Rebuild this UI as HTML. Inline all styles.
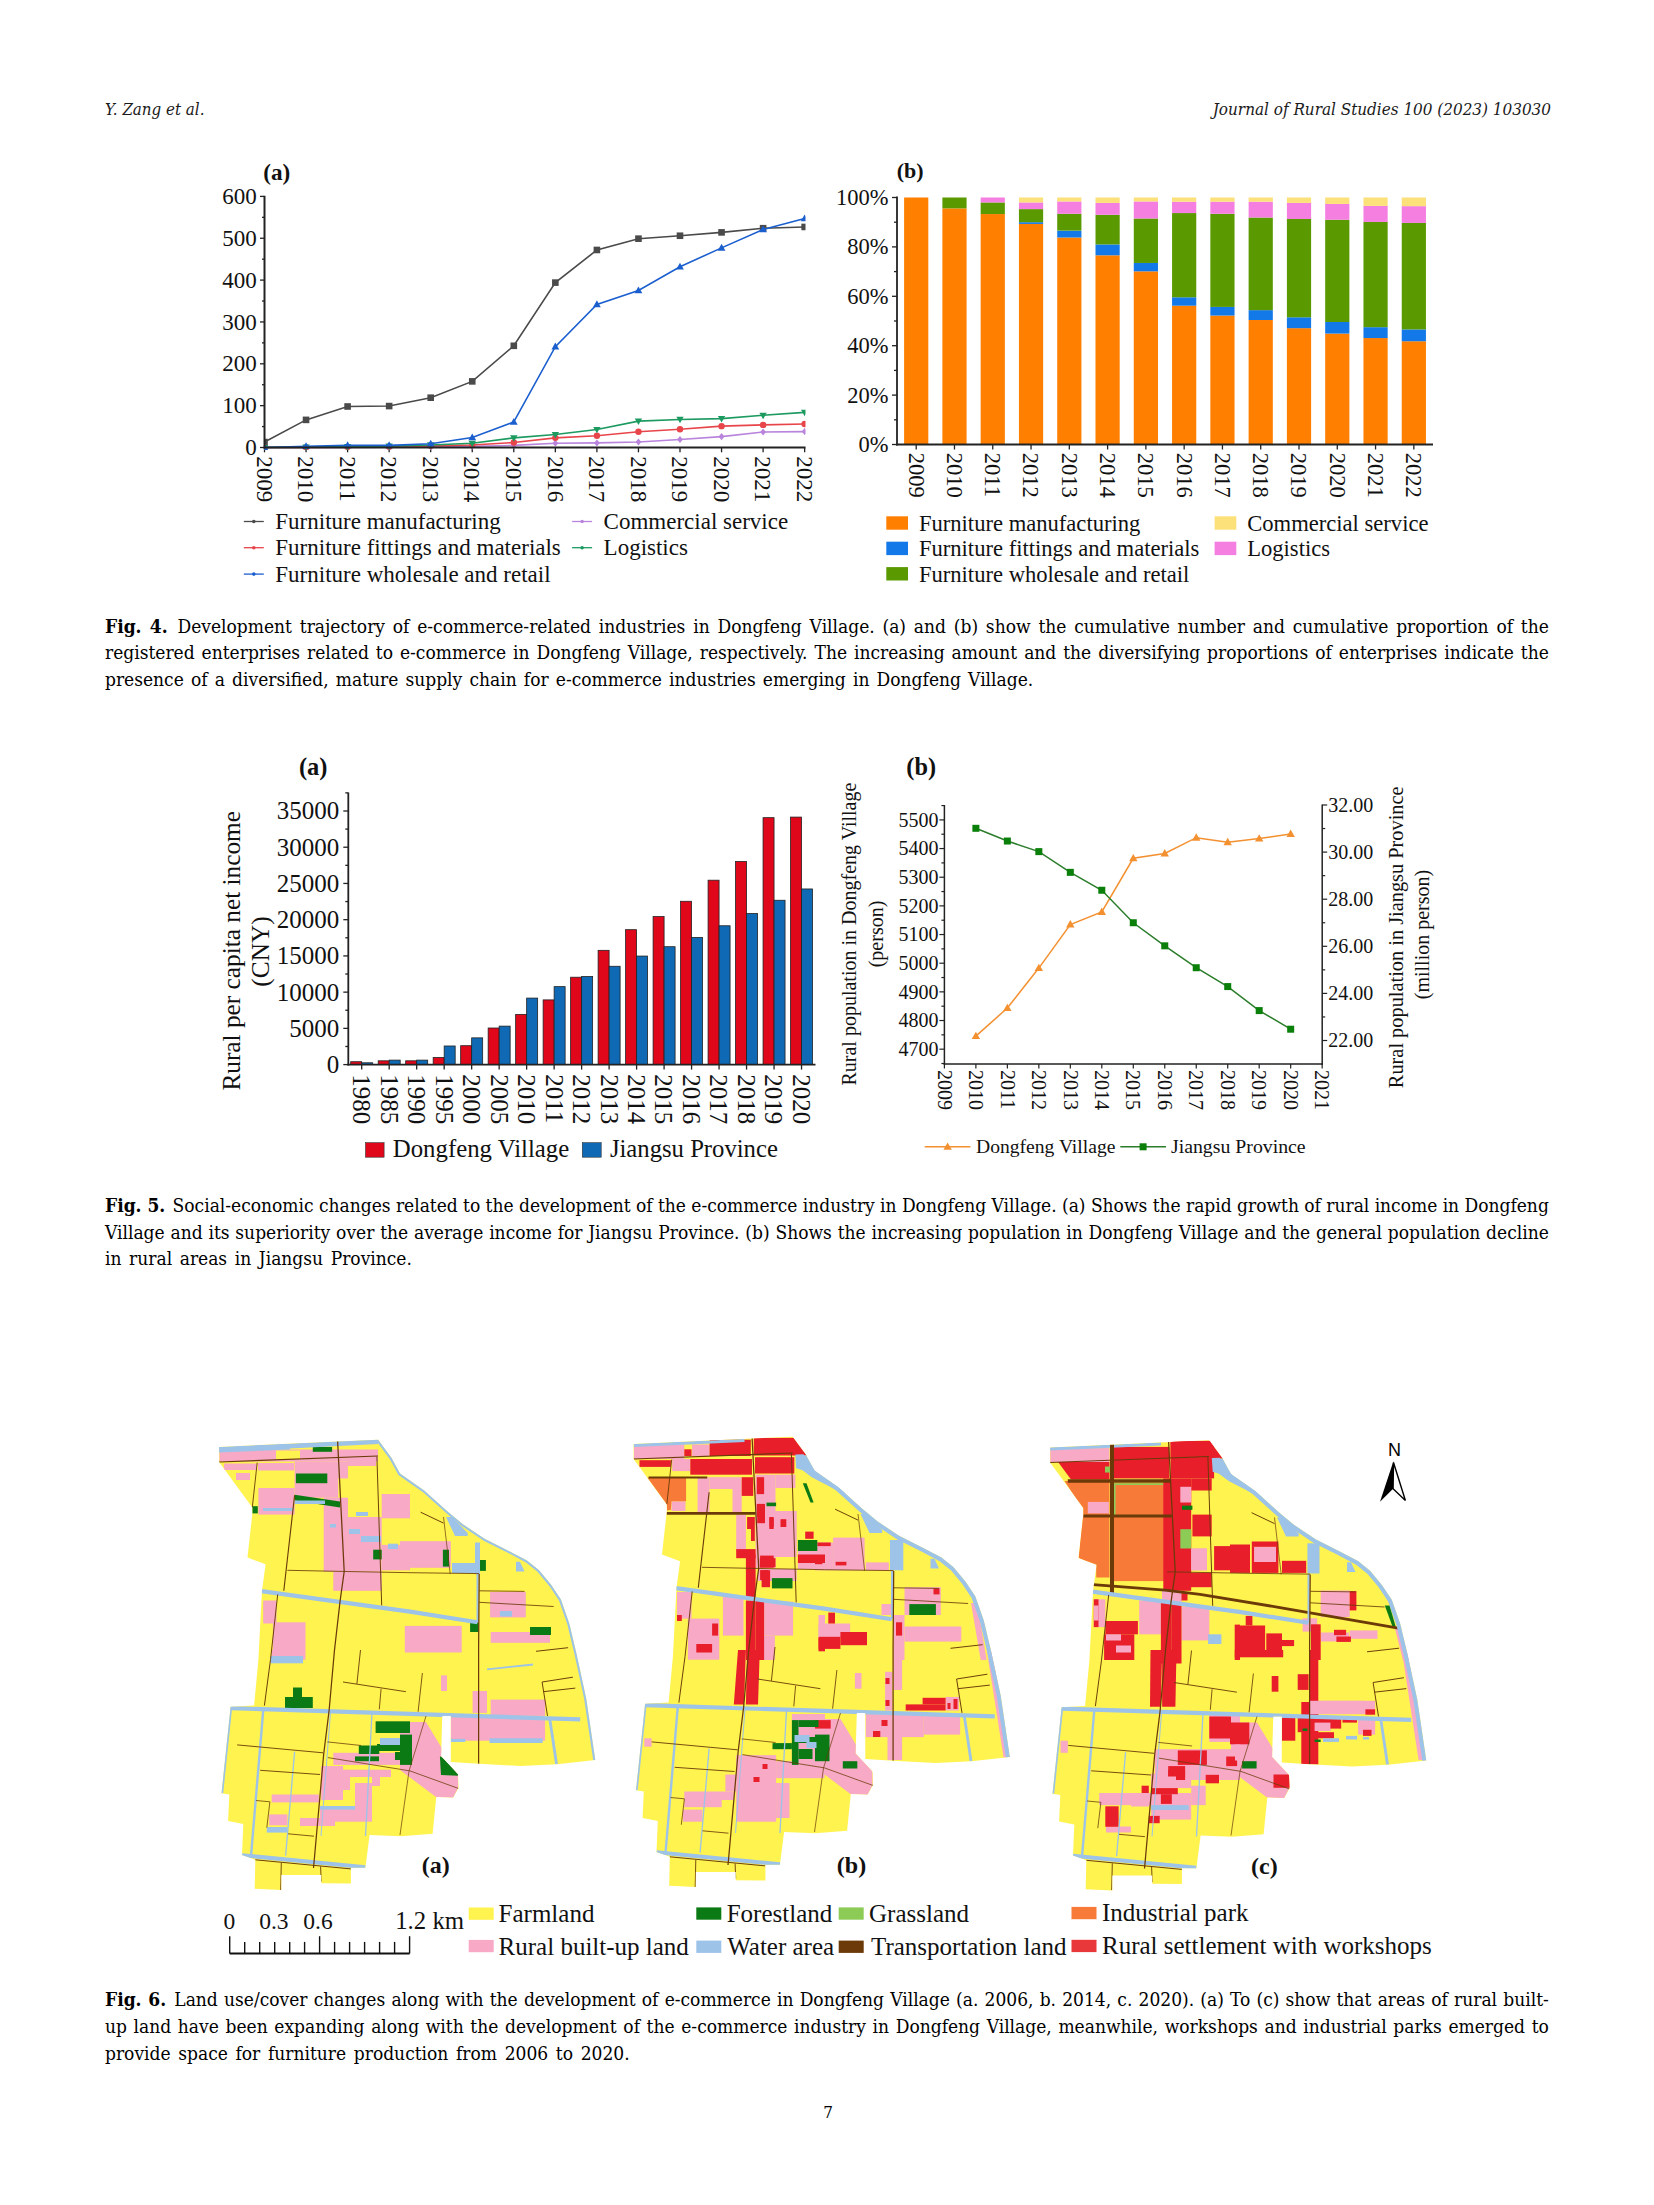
<!DOCTYPE html>
<html><head><meta charset="utf-8"><title>Journal of Rural Studies 100 (2023) 103030 - page 7</title>
<style>
html,body{margin:0;padding:0;background:#fff;}
body{width:1654px;height:2205px;position:relative;overflow:hidden;}
.hd{position:absolute;font-family:"DejaVu Serif Condensed","DejaVu Serif","Liberation Serif",serif;font-style:italic;color:#1a1a1a;line-height:1;white-space:nowrap;}
.cl{position:absolute;left:105px;width:1442px;font-family:"DejaVu Serif Condensed","DejaVu Serif","Liberation Serif",serif;font-size:19.0px;line-height:19.0px;color:#000;white-space:nowrap;}
.cl.j{}
.cl b{font-weight:bold;margin-right:2px;}
svg{position:absolute;left:0;top:0;}
</style></head>
<body>
<svg width="1654" height="2205" viewBox="0 0 1654 2205">
<g font-family="Liberation Serif, Times New Roman, serif" fill="#111">
<text x="263.30" y="180.00" font-size="23.2" text-anchor="start" font-weight="bold" >(a)</text>
<line x1="260.00" y1="447.50" x2="264.50" y2="447.50" stroke="#222" stroke-width="1.3" />
<text x="256.80" y="455.10" font-size="23" text-anchor="end" >0</text>
<line x1="262.00" y1="426.57" x2="264.50" y2="426.57" stroke="#222" stroke-width="1.3" />
<line x1="260.00" y1="405.65" x2="264.50" y2="405.65" stroke="#222" stroke-width="1.3" />
<text x="256.80" y="413.25" font-size="23" text-anchor="end" >100</text>
<line x1="262.00" y1="384.73" x2="264.50" y2="384.73" stroke="#222" stroke-width="1.3" />
<line x1="260.00" y1="363.80" x2="264.50" y2="363.80" stroke="#222" stroke-width="1.3" />
<text x="256.80" y="371.40" font-size="23" text-anchor="end" >200</text>
<line x1="262.00" y1="342.88" x2="264.50" y2="342.88" stroke="#222" stroke-width="1.3" />
<line x1="260.00" y1="321.95" x2="264.50" y2="321.95" stroke="#222" stroke-width="1.3" />
<text x="256.80" y="329.55" font-size="23" text-anchor="end" >300</text>
<line x1="262.00" y1="301.02" x2="264.50" y2="301.02" stroke="#222" stroke-width="1.3" />
<line x1="260.00" y1="280.10" x2="264.50" y2="280.10" stroke="#222" stroke-width="1.3" />
<text x="256.80" y="287.70" font-size="23" text-anchor="end" >400</text>
<line x1="262.00" y1="259.18" x2="264.50" y2="259.18" stroke="#222" stroke-width="1.3" />
<line x1="260.00" y1="238.25" x2="264.50" y2="238.25" stroke="#222" stroke-width="1.3" />
<text x="256.80" y="245.85" font-size="23" text-anchor="end" >500</text>
<line x1="262.00" y1="217.33" x2="264.50" y2="217.33" stroke="#222" stroke-width="1.3" />
<line x1="260.00" y1="196.40" x2="264.50" y2="196.40" stroke="#222" stroke-width="1.3" />
<text x="256.80" y="204.00" font-size="23" text-anchor="end" >600</text>
<line x1="264.50" y1="447.50" x2="264.50" y2="452.30" stroke="#222" stroke-width="1.3" />
<text transform="translate(256.70,456.30) rotate(90)" font-size="23" text-anchor="start" >2009</text>
<line x1="306.05" y1="447.50" x2="306.05" y2="452.30" stroke="#222" stroke-width="1.3" />
<text transform="translate(298.25,456.30) rotate(90)" font-size="23" text-anchor="start" >2010</text>
<line x1="347.60" y1="447.50" x2="347.60" y2="452.30" stroke="#222" stroke-width="1.3" />
<text transform="translate(339.80,456.30) rotate(90)" font-size="23" text-anchor="start" >2011</text>
<line x1="389.15" y1="447.50" x2="389.15" y2="452.30" stroke="#222" stroke-width="1.3" />
<text transform="translate(381.35,456.30) rotate(90)" font-size="23" text-anchor="start" >2012</text>
<line x1="430.70" y1="447.50" x2="430.70" y2="452.30" stroke="#222" stroke-width="1.3" />
<text transform="translate(422.90,456.30) rotate(90)" font-size="23" text-anchor="start" >2013</text>
<line x1="472.25" y1="447.50" x2="472.25" y2="452.30" stroke="#222" stroke-width="1.3" />
<text transform="translate(464.45,456.30) rotate(90)" font-size="23" text-anchor="start" >2014</text>
<line x1="513.80" y1="447.50" x2="513.80" y2="452.30" stroke="#222" stroke-width="1.3" />
<text transform="translate(506.00,456.30) rotate(90)" font-size="23" text-anchor="start" >2015</text>
<line x1="555.35" y1="447.50" x2="555.35" y2="452.30" stroke="#222" stroke-width="1.3" />
<text transform="translate(547.55,456.30) rotate(90)" font-size="23" text-anchor="start" >2016</text>
<line x1="596.90" y1="447.50" x2="596.90" y2="452.30" stroke="#222" stroke-width="1.3" />
<text transform="translate(589.10,456.30) rotate(90)" font-size="23" text-anchor="start" >2017</text>
<line x1="638.45" y1="447.50" x2="638.45" y2="452.30" stroke="#222" stroke-width="1.3" />
<text transform="translate(630.65,456.30) rotate(90)" font-size="23" text-anchor="start" >2018</text>
<line x1="680.00" y1="447.50" x2="680.00" y2="452.30" stroke="#222" stroke-width="1.3" />
<text transform="translate(672.20,456.30) rotate(90)" font-size="23" text-anchor="start" >2019</text>
<line x1="721.55" y1="447.50" x2="721.55" y2="452.30" stroke="#222" stroke-width="1.3" />
<text transform="translate(713.75,456.30) rotate(90)" font-size="23" text-anchor="start" >2020</text>
<line x1="763.10" y1="447.50" x2="763.10" y2="452.30" stroke="#222" stroke-width="1.3" />
<text transform="translate(755.30,456.30) rotate(90)" font-size="23" text-anchor="start" >2021</text>
<line x1="804.65" y1="447.50" x2="804.65" y2="452.30" stroke="#222" stroke-width="1.3" />
<text transform="translate(796.85,456.30) rotate(90)" font-size="23" text-anchor="start" >2022</text>
</g>
<defs><clipPath id="c4a"><rect x="264.5" y="150" width="541" height="300"/></clipPath></defs>
<g clip-path="url(#c4a)">
<polyline points="264.50,442.06 306.05,419.88 347.60,406.49 389.15,406.07 430.70,397.70 472.25,381.38 513.80,345.80 555.35,282.61 596.90,249.97 638.45,238.67 680.00,235.74 721.55,232.39 763.10,228.21 804.65,226.95" fill="none" stroke="#4a4a4a" stroke-width="1.6"/>
<rect x="261.20" y="438.76" width="6.6" height="6.6" fill="#4a4a4a"/>
<rect x="302.75" y="416.58" width="6.6" height="6.6" fill="#4a4a4a"/>
<rect x="344.30" y="403.19" width="6.6" height="6.6" fill="#4a4a4a"/>
<rect x="385.85" y="402.77" width="6.6" height="6.6" fill="#4a4a4a"/>
<rect x="427.40" y="394.40" width="6.6" height="6.6" fill="#4a4a4a"/>
<rect x="468.95" y="378.08" width="6.6" height="6.6" fill="#4a4a4a"/>
<rect x="510.50" y="342.50" width="6.6" height="6.6" fill="#4a4a4a"/>
<rect x="552.05" y="279.31" width="6.6" height="6.6" fill="#4a4a4a"/>
<rect x="593.60" y="246.67" width="6.6" height="6.6" fill="#4a4a4a"/>
<rect x="635.15" y="235.37" width="6.6" height="6.6" fill="#4a4a4a"/>
<rect x="676.70" y="232.44" width="6.6" height="6.6" fill="#4a4a4a"/>
<rect x="718.25" y="229.09" width="6.6" height="6.6" fill="#4a4a4a"/>
<rect x="759.80" y="224.91" width="6.6" height="6.6" fill="#4a4a4a"/>
<rect x="801.35" y="223.65" width="6.6" height="6.6" fill="#4a4a4a"/>
<polyline points="264.50,447.50 306.05,447.50 347.60,447.50 389.15,447.08 430.70,446.66 472.25,446.24 513.80,445.41 555.35,443.31 596.90,442.90 638.45,442.06 680.00,439.55 721.55,436.62 763.10,432.02 804.65,431.60" fill="none" stroke="#b884dc" stroke-width="1.6"/>
<polygon points="264.50,443.98 267.38,447.50 264.50,451.02 261.62,447.50" fill="#b884dc"/>
<polygon points="306.05,443.98 308.93,447.50 306.05,451.02 303.17,447.50" fill="#b884dc"/>
<polygon points="347.60,443.98 350.48,447.50 347.60,451.02 344.72,447.50" fill="#b884dc"/>
<polygon points="389.15,443.56 392.03,447.08 389.15,450.60 386.27,447.08" fill="#b884dc"/>
<polygon points="430.70,443.14 433.58,446.66 430.70,450.18 427.82,446.66" fill="#b884dc"/>
<polygon points="472.25,442.72 475.13,446.24 472.25,449.76 469.37,446.24" fill="#b884dc"/>
<polygon points="513.80,441.89 516.68,445.41 513.80,448.93 510.92,445.41" fill="#b884dc"/>
<polygon points="555.35,439.80 558.23,443.31 555.35,446.83 552.47,443.31" fill="#b884dc"/>
<polygon points="596.90,439.38 599.78,442.90 596.90,446.42 594.02,442.90" fill="#b884dc"/>
<polygon points="638.45,438.54 641.33,442.06 638.45,445.58 635.57,442.06" fill="#b884dc"/>
<polygon points="680.00,436.03 682.88,439.55 680.00,443.07 677.12,439.55" fill="#b884dc"/>
<polygon points="721.55,433.10 724.43,436.62 721.55,440.14 718.67,436.62" fill="#b884dc"/>
<polygon points="763.10,428.50 765.98,432.02 763.10,435.54 760.22,432.02" fill="#b884dc"/>
<polygon points="804.65,428.08 807.53,431.60 804.65,435.12 801.77,431.60" fill="#b884dc"/>
<polyline points="264.50,447.50 306.05,447.50 347.60,447.08 389.15,446.66 430.70,445.83 472.25,444.99 513.80,442.48 555.35,437.87 596.90,435.78 638.45,431.81 680.00,429.30 721.55,426.16 763.10,424.90 804.65,424.06" fill="none" stroke="#e8454a" stroke-width="1.6"/>
<circle cx="264.50" cy="447.50" r="3.2" fill="#e8454a"/>
<circle cx="306.05" cy="447.50" r="3.2" fill="#e8454a"/>
<circle cx="347.60" cy="447.08" r="3.2" fill="#e8454a"/>
<circle cx="389.15" cy="446.66" r="3.2" fill="#e8454a"/>
<circle cx="430.70" cy="445.83" r="3.2" fill="#e8454a"/>
<circle cx="472.25" cy="444.99" r="3.2" fill="#e8454a"/>
<circle cx="513.80" cy="442.48" r="3.2" fill="#e8454a"/>
<circle cx="555.35" cy="437.87" r="3.2" fill="#e8454a"/>
<circle cx="596.90" cy="435.78" r="3.2" fill="#e8454a"/>
<circle cx="638.45" cy="431.81" r="3.2" fill="#e8454a"/>
<circle cx="680.00" cy="429.30" r="3.2" fill="#e8454a"/>
<circle cx="721.55" cy="426.16" r="3.2" fill="#e8454a"/>
<circle cx="763.10" cy="424.90" r="3.2" fill="#e8454a"/>
<circle cx="804.65" cy="424.06" r="3.2" fill="#e8454a"/>
<polyline points="264.50,447.50 306.05,447.08 347.60,446.66 389.15,446.24 430.70,444.99 472.25,443.31 513.80,437.87 555.35,434.53 596.90,429.50 638.45,421.13 680.00,419.46 721.55,418.62 763.10,415.28 804.65,412.35" fill="none" stroke="#1c9a60" stroke-width="1.6"/>
<polygon points="264.50,451.35 268.18,444.88 260.82,444.88" fill="#1c9a60"/>
<polygon points="306.05,450.93 309.73,444.46 302.38,444.46" fill="#1c9a60"/>
<polygon points="347.60,450.51 351.28,444.04 343.93,444.04" fill="#1c9a60"/>
<polygon points="389.15,450.09 392.82,443.62 385.47,443.62" fill="#1c9a60"/>
<polygon points="430.70,448.84 434.38,442.36 427.02,442.36" fill="#1c9a60"/>
<polygon points="472.25,447.17 475.93,440.69 468.57,440.69" fill="#1c9a60"/>
<polygon points="513.80,441.72 517.47,435.25 510.12,435.25" fill="#1c9a60"/>
<polygon points="555.35,438.38 559.02,431.90 551.67,431.90" fill="#1c9a60"/>
<polygon points="596.90,433.35 600.57,426.88 593.23,426.88" fill="#1c9a60"/>
<polygon points="638.45,424.98 642.12,418.51 634.78,418.51" fill="#1c9a60"/>
<polygon points="680.00,423.31 683.67,416.84 676.33,416.84" fill="#1c9a60"/>
<polygon points="721.55,422.47 725.22,416.00 717.88,416.00" fill="#1c9a60"/>
<polygon points="763.10,419.13 766.77,412.65 759.42,412.65" fill="#1c9a60"/>
<polygon points="804.65,416.20 808.32,409.72 800.98,409.72" fill="#1c9a60"/>
<polyline points="264.50,447.50 306.05,446.24 347.60,445.41 389.15,445.41 430.70,443.73 472.25,437.46 513.80,421.97 555.35,346.64 596.90,304.37 638.45,290.56 680.00,266.71 721.55,247.88 763.10,229.46 804.65,218.58" fill="none" stroke="#1b5fcf" stroke-width="1.6"/>
<polygon points="264.50,443.43 268.38,450.27 260.62,450.27" fill="#1b5fcf"/>
<polygon points="306.05,442.17 309.94,449.02 302.17,449.02" fill="#1b5fcf"/>
<polygon points="347.60,441.34 351.49,448.18 343.72,448.18" fill="#1b5fcf"/>
<polygon points="389.15,441.34 393.03,448.18 385.26,448.18" fill="#1b5fcf"/>
<polygon points="430.70,439.66 434.58,446.51 426.81,446.51" fill="#1b5fcf"/>
<polygon points="472.25,433.39 476.13,440.23 468.37,440.23" fill="#1b5fcf"/>
<polygon points="513.80,417.90 517.68,424.75 509.91,424.75" fill="#1b5fcf"/>
<polygon points="555.35,342.57 559.23,349.42 551.46,349.42" fill="#1b5fcf"/>
<polygon points="596.90,300.30 600.78,307.15 593.01,307.15" fill="#1b5fcf"/>
<polygon points="638.45,286.49 642.34,293.34 634.57,293.34" fill="#1b5fcf"/>
<polygon points="680.00,262.64 683.88,269.48 676.12,269.48" fill="#1b5fcf"/>
<polygon points="721.55,243.81 725.43,250.65 717.66,250.65" fill="#1b5fcf"/>
<polygon points="763.10,225.39 766.98,232.24 759.21,232.24" fill="#1b5fcf"/>
<polygon points="804.65,214.51 808.53,221.36 800.76,221.36" fill="#1b5fcf"/>
</g>
<line x1="264.50" y1="195.80" x2="264.50" y2="448.50" stroke="#222" stroke-width="2" />
<line x1="263.50" y1="447.50" x2="805.50" y2="447.50" stroke="#222" stroke-width="2" />
<g font-family="Liberation Serif, Times New Roman, serif" fill="#111">
<text x="275.30" y="529.00" font-size="23" text-anchor="start" >Furniture manufacturing</text>
<line x1="243.80" y1="521.50" x2="263.80" y2="521.50" stroke="#4a4a4a" stroke-width="1.3" />
<circle cx="253.80" cy="521.50" r="1.8" fill="#4a4a4a"/>
<text x="275.30" y="555.20" font-size="23" text-anchor="start" >Furniture fittings and materials</text>
<line x1="243.80" y1="547.70" x2="263.80" y2="547.70" stroke="#e8454a" stroke-width="1.3" />
<circle cx="253.80" cy="547.70" r="1.8" fill="#e8454a"/>
<text x="275.30" y="581.60" font-size="23" text-anchor="start" >Furniture wholesale and retail</text>
<line x1="243.80" y1="574.10" x2="263.80" y2="574.10" stroke="#1b5fcf" stroke-width="1.3" />
<circle cx="253.80" cy="574.10" r="1.8" fill="#1b5fcf"/>
<text x="603.60" y="529.00" font-size="23" text-anchor="start" >Commercial service</text>
<line x1="572.10" y1="521.50" x2="592.10" y2="521.50" stroke="#b884dc" stroke-width="1.3" />
<circle cx="582.10" cy="521.50" r="1.8" fill="#b884dc"/>
<text x="603.60" y="555.20" font-size="23" text-anchor="start" >Logistics</text>
<line x1="572.10" y1="547.70" x2="592.10" y2="547.70" stroke="#1c9a60" stroke-width="1.3" />
<circle cx="582.10" cy="547.70" r="1.8" fill="#1c9a60"/>
</g>
<rect x="904.10" y="197.50" width="24.2" height="247.00" fill="#ff7f00"/>
<rect x="942.38" y="208.37" width="24.2" height="236.13" fill="#ff7f00"/>
<rect x="942.38" y="197.50" width="24.2" height="10.87" fill="#5a9a00"/>
<rect x="980.66" y="214.05" width="24.2" height="230.45" fill="#ff7f00"/>
<rect x="980.66" y="202.44" width="24.2" height="11.61" fill="#5a9a00"/>
<rect x="980.66" y="197.50" width="24.2" height="4.94" fill="#f47fe0"/>
<rect x="1018.94" y="223.93" width="24.2" height="220.57" fill="#ff7f00"/>
<rect x="1018.94" y="222.20" width="24.2" height="1.73" fill="#1479e8"/>
<rect x="1018.94" y="209.11" width="24.2" height="13.09" fill="#5a9a00"/>
<rect x="1018.94" y="202.44" width="24.2" height="6.67" fill="#f47fe0"/>
<rect x="1018.94" y="197.50" width="24.2" height="4.94" fill="#fce07a"/>
<rect x="1057.22" y="237.51" width="24.2" height="206.99" fill="#ff7f00"/>
<rect x="1057.22" y="230.60" width="24.2" height="6.92" fill="#1479e8"/>
<rect x="1057.22" y="213.80" width="24.2" height="16.80" fill="#5a9a00"/>
<rect x="1057.22" y="201.45" width="24.2" height="12.35" fill="#f47fe0"/>
<rect x="1057.22" y="197.50" width="24.2" height="3.95" fill="#fce07a"/>
<rect x="1095.50" y="255.30" width="24.2" height="189.20" fill="#ff7f00"/>
<rect x="1095.50" y="244.43" width="24.2" height="10.87" fill="#1479e8"/>
<rect x="1095.50" y="214.79" width="24.2" height="29.64" fill="#5a9a00"/>
<rect x="1095.50" y="202.93" width="24.2" height="11.86" fill="#f47fe0"/>
<rect x="1095.50" y="197.50" width="24.2" height="5.43" fill="#fce07a"/>
<rect x="1133.78" y="271.35" width="24.2" height="173.15" fill="#ff7f00"/>
<rect x="1133.78" y="262.95" width="24.2" height="8.40" fill="#1479e8"/>
<rect x="1133.78" y="218.49" width="24.2" height="44.46" fill="#5a9a00"/>
<rect x="1133.78" y="201.45" width="24.2" height="17.04" fill="#f47fe0"/>
<rect x="1133.78" y="197.50" width="24.2" height="3.95" fill="#fce07a"/>
<rect x="1172.06" y="305.69" width="24.2" height="138.81" fill="#ff7f00"/>
<rect x="1172.06" y="297.29" width="24.2" height="8.40" fill="#1479e8"/>
<rect x="1172.06" y="213.06" width="24.2" height="84.23" fill="#5a9a00"/>
<rect x="1172.06" y="201.70" width="24.2" height="11.36" fill="#f47fe0"/>
<rect x="1172.06" y="197.50" width="24.2" height="4.20" fill="#fce07a"/>
<rect x="1210.34" y="315.57" width="24.2" height="128.93" fill="#ff7f00"/>
<rect x="1210.34" y="306.92" width="24.2" height="8.65" fill="#1479e8"/>
<rect x="1210.34" y="213.80" width="24.2" height="93.12" fill="#5a9a00"/>
<rect x="1210.34" y="201.70" width="24.2" height="12.10" fill="#f47fe0"/>
<rect x="1210.34" y="197.50" width="24.2" height="4.20" fill="#fce07a"/>
<rect x="1248.62" y="320.01" width="24.2" height="124.49" fill="#ff7f00"/>
<rect x="1248.62" y="310.13" width="24.2" height="9.88" fill="#1479e8"/>
<rect x="1248.62" y="217.51" width="24.2" height="92.63" fill="#5a9a00"/>
<rect x="1248.62" y="201.70" width="24.2" height="15.81" fill="#f47fe0"/>
<rect x="1248.62" y="197.50" width="24.2" height="4.20" fill="#fce07a"/>
<rect x="1286.90" y="328.16" width="24.2" height="116.34" fill="#ff7f00"/>
<rect x="1286.90" y="317.29" width="24.2" height="10.87" fill="#1479e8"/>
<rect x="1286.90" y="218.99" width="24.2" height="98.31" fill="#5a9a00"/>
<rect x="1286.90" y="202.93" width="24.2" height="16.05" fill="#f47fe0"/>
<rect x="1286.90" y="197.50" width="24.2" height="5.43" fill="#fce07a"/>
<rect x="1325.18" y="333.60" width="24.2" height="110.90" fill="#ff7f00"/>
<rect x="1325.18" y="321.99" width="24.2" height="11.61" fill="#1479e8"/>
<rect x="1325.18" y="219.73" width="24.2" height="102.26" fill="#5a9a00"/>
<rect x="1325.18" y="203.92" width="24.2" height="15.81" fill="#f47fe0"/>
<rect x="1325.18" y="197.50" width="24.2" height="6.42" fill="#fce07a"/>
<rect x="1363.46" y="338.04" width="24.2" height="106.46" fill="#ff7f00"/>
<rect x="1363.46" y="327.18" width="24.2" height="10.87" fill="#1479e8"/>
<rect x="1363.46" y="221.95" width="24.2" height="105.22" fill="#5a9a00"/>
<rect x="1363.46" y="205.90" width="24.2" height="16.05" fill="#f47fe0"/>
<rect x="1363.46" y="197.50" width="24.2" height="8.40" fill="#fce07a"/>
<rect x="1401.74" y="341.25" width="24.2" height="103.25" fill="#ff7f00"/>
<rect x="1401.74" y="329.40" width="24.2" height="11.86" fill="#1479e8"/>
<rect x="1401.74" y="222.94" width="24.2" height="106.46" fill="#5a9a00"/>
<rect x="1401.74" y="206.14" width="24.2" height="16.80" fill="#f47fe0"/>
<rect x="1401.74" y="197.50" width="24.2" height="8.65" fill="#fce07a"/>
<g font-family="Liberation Serif, Times New Roman, serif" fill="#111">
<text x="896.80" y="177.80" font-size="22" text-anchor="start" font-weight="bold" >(b)</text>
<line x1="892.00" y1="444.50" x2="897.00" y2="444.50" stroke="#222" stroke-width="1.3" />
<text x="888.60" y="452.00" font-size="22.5" text-anchor="end" >0%</text>
<line x1="894.00" y1="419.80" x2="897.00" y2="419.80" stroke="#222" stroke-width="1.3" />
<line x1="892.00" y1="395.10" x2="897.00" y2="395.10" stroke="#222" stroke-width="1.3" />
<text x="888.60" y="402.60" font-size="22.5" text-anchor="end" >20%</text>
<line x1="894.00" y1="370.40" x2="897.00" y2="370.40" stroke="#222" stroke-width="1.3" />
<line x1="892.00" y1="345.70" x2="897.00" y2="345.70" stroke="#222" stroke-width="1.3" />
<text x="888.60" y="353.20" font-size="22.5" text-anchor="end" >40%</text>
<line x1="894.00" y1="321.00" x2="897.00" y2="321.00" stroke="#222" stroke-width="1.3" />
<line x1="892.00" y1="296.30" x2="897.00" y2="296.30" stroke="#222" stroke-width="1.3" />
<text x="888.60" y="303.80" font-size="22.5" text-anchor="end" >60%</text>
<line x1="894.00" y1="271.60" x2="897.00" y2="271.60" stroke="#222" stroke-width="1.3" />
<line x1="892.00" y1="246.90" x2="897.00" y2="246.90" stroke="#222" stroke-width="1.3" />
<text x="888.60" y="254.40" font-size="22.5" text-anchor="end" >80%</text>
<line x1="894.00" y1="222.20" x2="897.00" y2="222.20" stroke="#222" stroke-width="1.3" />
<line x1="892.00" y1="197.50" x2="897.00" y2="197.50" stroke="#222" stroke-width="1.3" />
<text x="888.60" y="205.00" font-size="22.5" text-anchor="end" >100%</text>
<line x1="916.20" y1="444.50" x2="916.20" y2="449.50" stroke="#222" stroke-width="1.3" />
<text transform="translate(908.60,452.80) rotate(90)" font-size="22.5" text-anchor="start" >2009</text>
<line x1="954.48" y1="444.50" x2="954.48" y2="449.50" stroke="#222" stroke-width="1.3" />
<text transform="translate(946.88,452.80) rotate(90)" font-size="22.5" text-anchor="start" >2010</text>
<line x1="992.76" y1="444.50" x2="992.76" y2="449.50" stroke="#222" stroke-width="1.3" />
<text transform="translate(985.16,452.80) rotate(90)" font-size="22.5" text-anchor="start" >2011</text>
<line x1="1031.04" y1="444.50" x2="1031.04" y2="449.50" stroke="#222" stroke-width="1.3" />
<text transform="translate(1023.44,452.80) rotate(90)" font-size="22.5" text-anchor="start" >2012</text>
<line x1="1069.32" y1="444.50" x2="1069.32" y2="449.50" stroke="#222" stroke-width="1.3" />
<text transform="translate(1061.72,452.80) rotate(90)" font-size="22.5" text-anchor="start" >2013</text>
<line x1="1107.60" y1="444.50" x2="1107.60" y2="449.50" stroke="#222" stroke-width="1.3" />
<text transform="translate(1100.00,452.80) rotate(90)" font-size="22.5" text-anchor="start" >2014</text>
<line x1="1145.88" y1="444.50" x2="1145.88" y2="449.50" stroke="#222" stroke-width="1.3" />
<text transform="translate(1138.28,452.80) rotate(90)" font-size="22.5" text-anchor="start" >2015</text>
<line x1="1184.16" y1="444.50" x2="1184.16" y2="449.50" stroke="#222" stroke-width="1.3" />
<text transform="translate(1176.56,452.80) rotate(90)" font-size="22.5" text-anchor="start" >2016</text>
<line x1="1222.44" y1="444.50" x2="1222.44" y2="449.50" stroke="#222" stroke-width="1.3" />
<text transform="translate(1214.84,452.80) rotate(90)" font-size="22.5" text-anchor="start" >2017</text>
<line x1="1260.72" y1="444.50" x2="1260.72" y2="449.50" stroke="#222" stroke-width="1.3" />
<text transform="translate(1253.12,452.80) rotate(90)" font-size="22.5" text-anchor="start" >2018</text>
<line x1="1299.00" y1="444.50" x2="1299.00" y2="449.50" stroke="#222" stroke-width="1.3" />
<text transform="translate(1291.40,452.80) rotate(90)" font-size="22.5" text-anchor="start" >2019</text>
<line x1="1337.28" y1="444.50" x2="1337.28" y2="449.50" stroke="#222" stroke-width="1.3" />
<text transform="translate(1329.68,452.80) rotate(90)" font-size="22.5" text-anchor="start" >2020</text>
<line x1="1375.56" y1="444.50" x2="1375.56" y2="449.50" stroke="#222" stroke-width="1.3" />
<text transform="translate(1367.96,452.80) rotate(90)" font-size="22.5" text-anchor="start" >2021</text>
<line x1="1413.84" y1="444.50" x2="1413.84" y2="449.50" stroke="#222" stroke-width="1.3" />
<text transform="translate(1406.24,452.80) rotate(90)" font-size="22.5" text-anchor="start" >2022</text>
<line x1="897.00" y1="196.50" x2="897.00" y2="445.50" stroke="#222" stroke-width="1.8" />
<line x1="896.00" y1="444.50" x2="1433.00" y2="444.50" stroke="#222" stroke-width="1.8" />
<text x="918.90" y="530.80" font-size="22.6" text-anchor="start" >Furniture manufacturing</text>
<rect x="886.30" y="516.30" width="21.7" height="13.4" fill="#ff7f00"/>
<text x="918.90" y="556.20" font-size="22.6" text-anchor="start" >Furniture fittings and materials</text>
<rect x="886.30" y="541.70" width="21.7" height="13.4" fill="#1479e8"/>
<text x="918.90" y="581.60" font-size="22.6" text-anchor="start" >Furniture wholesale and retail</text>
<rect x="886.30" y="567.10" width="21.7" height="13.4" fill="#5a9a00"/>
<text x="1247.20" y="530.80" font-size="22.6" text-anchor="start" >Commercial service</text>
<rect x="1214.60" y="516.30" width="21.7" height="13.4" fill="#fce07a"/>
<text x="1247.20" y="556.20" font-size="22.6" text-anchor="start" >Logistics</text>
<rect x="1214.60" y="541.70" width="21.7" height="13.4" fill="#f47fe0"/>
</g>
<rect x="350.70" y="1061.70" width="11.0" height="2.90" fill="#e0071b" stroke="#222" stroke-width="0.8"/>
<rect x="361.70" y="1062.79" width="11.0" height="1.81" fill="#0f69b4" stroke="#222" stroke-width="0.8"/>
<rect x="378.19" y="1060.80" width="11.0" height="3.80" fill="#e0071b" stroke="#222" stroke-width="0.8"/>
<rect x="389.19" y="1060.11" width="11.0" height="4.49" fill="#0f69b4" stroke="#222" stroke-width="0.8"/>
<rect x="405.68" y="1060.80" width="11.0" height="3.80" fill="#e0071b" stroke="#222" stroke-width="0.8"/>
<rect x="416.68" y="1060.11" width="11.0" height="4.49" fill="#0f69b4" stroke="#222" stroke-width="0.8"/>
<rect x="433.17" y="1057.50" width="11.0" height="7.10" fill="#e0071b" stroke="#222" stroke-width="0.8"/>
<rect x="444.17" y="1045.98" width="11.0" height="18.62" fill="#0f69b4" stroke="#222" stroke-width="0.8"/>
<rect x="460.66" y="1045.69" width="11.0" height="18.91" fill="#e0071b" stroke="#222" stroke-width="0.8"/>
<rect x="471.66" y="1037.86" width="11.0" height="26.74" fill="#0f69b4" stroke="#222" stroke-width="0.8"/>
<rect x="488.15" y="1028.01" width="11.0" height="36.59" fill="#e0071b" stroke="#222" stroke-width="0.8"/>
<rect x="499.15" y="1026.12" width="11.0" height="38.48" fill="#0f69b4" stroke="#222" stroke-width="0.8"/>
<rect x="515.64" y="1014.39" width="11.0" height="50.21" fill="#e0071b" stroke="#222" stroke-width="0.8"/>
<rect x="526.64" y="998.08" width="11.0" height="66.52" fill="#0f69b4" stroke="#222" stroke-width="0.8"/>
<rect x="543.13" y="999.89" width="11.0" height="64.71" fill="#e0071b" stroke="#222" stroke-width="0.8"/>
<rect x="554.13" y="986.63" width="11.0" height="77.97" fill="#0f69b4" stroke="#222" stroke-width="0.8"/>
<rect x="570.62" y="977.21" width="11.0" height="87.39" fill="#e0071b" stroke="#222" stroke-width="0.8"/>
<rect x="581.62" y="976.42" width="11.0" height="88.18" fill="#0f69b4" stroke="#222" stroke-width="0.8"/>
<rect x="598.11" y="950.33" width="11.0" height="114.27" fill="#e0071b" stroke="#222" stroke-width="0.8"/>
<rect x="609.11" y="966.27" width="11.0" height="98.33" fill="#0f69b4" stroke="#222" stroke-width="0.8"/>
<rect x="625.60" y="929.68" width="11.0" height="134.92" fill="#e0071b" stroke="#222" stroke-width="0.8"/>
<rect x="636.60" y="956.05" width="11.0" height="108.55" fill="#0f69b4" stroke="#222" stroke-width="0.8"/>
<rect x="653.09" y="916.56" width="11.0" height="148.04" fill="#e0071b" stroke="#222" stroke-width="0.8"/>
<rect x="664.09" y="946.71" width="11.0" height="117.89" fill="#0f69b4" stroke="#222" stroke-width="0.8"/>
<rect x="680.58" y="901.28" width="11.0" height="163.32" fill="#e0071b" stroke="#222" stroke-width="0.8"/>
<rect x="691.58" y="937.43" width="11.0" height="127.17" fill="#0f69b4" stroke="#222" stroke-width="0.8"/>
<rect x="708.07" y="880.19" width="11.0" height="184.41" fill="#e0071b" stroke="#222" stroke-width="0.8"/>
<rect x="719.07" y="925.77" width="11.0" height="138.83" fill="#0f69b4" stroke="#222" stroke-width="0.8"/>
<rect x="735.56" y="861.49" width="11.0" height="203.11" fill="#e0071b" stroke="#222" stroke-width="0.8"/>
<rect x="746.56" y="913.52" width="11.0" height="151.08" fill="#0f69b4" stroke="#222" stroke-width="0.8"/>
<rect x="763.05" y="817.66" width="11.0" height="246.94" fill="#e0071b" stroke="#222" stroke-width="0.8"/>
<rect x="774.05" y="900.26" width="11.0" height="164.34" fill="#0f69b4" stroke="#222" stroke-width="0.8"/>
<rect x="790.54" y="817.08" width="11.0" height="247.52" fill="#e0071b" stroke="#222" stroke-width="0.8"/>
<rect x="801.54" y="888.96" width="11.0" height="175.64" fill="#0f69b4" stroke="#222" stroke-width="0.8"/>
<g font-family="Liberation Serif, Times New Roman, serif" fill="#111">
<text x="298.90" y="775.40" font-size="24.5" text-anchor="start" font-weight="bold" >(a)</text>
<line x1="343.30" y1="1064.60" x2="348.30" y2="1064.60" stroke="#222" stroke-width="1.3" />
<text x="339.30" y="1073.00" font-size="25" text-anchor="end" >0</text>
<line x1="345.30" y1="1046.48" x2="348.30" y2="1046.48" stroke="#222" stroke-width="1.3" />
<line x1="343.30" y1="1028.37" x2="348.30" y2="1028.37" stroke="#222" stroke-width="1.3" />
<text x="339.30" y="1036.77" font-size="25" text-anchor="end" >5000</text>
<line x1="345.30" y1="1010.25" x2="348.30" y2="1010.25" stroke="#222" stroke-width="1.3" />
<line x1="343.30" y1="992.14" x2="348.30" y2="992.14" stroke="#222" stroke-width="1.3" />
<text x="339.30" y="1000.54" font-size="25" text-anchor="end" >10000</text>
<line x1="345.30" y1="974.02" x2="348.30" y2="974.02" stroke="#222" stroke-width="1.3" />
<line x1="343.30" y1="955.91" x2="348.30" y2="955.91" stroke="#222" stroke-width="1.3" />
<text x="339.30" y="964.31" font-size="25" text-anchor="end" >15000</text>
<line x1="345.30" y1="937.79" x2="348.30" y2="937.79" stroke="#222" stroke-width="1.3" />
<line x1="343.30" y1="919.68" x2="348.30" y2="919.68" stroke="#222" stroke-width="1.3" />
<text x="339.30" y="928.08" font-size="25" text-anchor="end" >20000</text>
<line x1="345.30" y1="901.56" x2="348.30" y2="901.56" stroke="#222" stroke-width="1.3" />
<line x1="343.30" y1="883.45" x2="348.30" y2="883.45" stroke="#222" stroke-width="1.3" />
<text x="339.30" y="891.85" font-size="25" text-anchor="end" >25000</text>
<line x1="345.30" y1="865.33" x2="348.30" y2="865.33" stroke="#222" stroke-width="1.3" />
<line x1="343.30" y1="847.22" x2="348.30" y2="847.22" stroke="#222" stroke-width="1.3" />
<text x="339.30" y="855.62" font-size="25" text-anchor="end" >30000</text>
<line x1="345.30" y1="829.10" x2="348.30" y2="829.10" stroke="#222" stroke-width="1.3" />
<line x1="343.30" y1="810.99" x2="348.30" y2="810.99" stroke="#222" stroke-width="1.3" />
<text x="339.30" y="819.39" font-size="25" text-anchor="end" >35000</text>
<line x1="345.30" y1="792.88" x2="348.30" y2="792.88" stroke="#222" stroke-width="1.3" />
<line x1="361.70" y1="1064.60" x2="361.70" y2="1069.60" stroke="#222" stroke-width="1.3" />
<text transform="translate(353.10,1074.30) rotate(90)" font-size="25" text-anchor="start" >1980</text>
<line x1="389.19" y1="1064.60" x2="389.19" y2="1069.60" stroke="#222" stroke-width="1.3" />
<text transform="translate(380.59,1074.30) rotate(90)" font-size="25" text-anchor="start" >1985</text>
<line x1="416.68" y1="1064.60" x2="416.68" y2="1069.60" stroke="#222" stroke-width="1.3" />
<text transform="translate(408.08,1074.30) rotate(90)" font-size="25" text-anchor="start" >1990</text>
<line x1="444.17" y1="1064.60" x2="444.17" y2="1069.60" stroke="#222" stroke-width="1.3" />
<text transform="translate(435.57,1074.30) rotate(90)" font-size="25" text-anchor="start" >1995</text>
<line x1="471.66" y1="1064.60" x2="471.66" y2="1069.60" stroke="#222" stroke-width="1.3" />
<text transform="translate(463.06,1074.30) rotate(90)" font-size="25" text-anchor="start" >2000</text>
<line x1="499.15" y1="1064.60" x2="499.15" y2="1069.60" stroke="#222" stroke-width="1.3" />
<text transform="translate(490.55,1074.30) rotate(90)" font-size="25" text-anchor="start" >2005</text>
<line x1="526.64" y1="1064.60" x2="526.64" y2="1069.60" stroke="#222" stroke-width="1.3" />
<text transform="translate(518.04,1074.30) rotate(90)" font-size="25" text-anchor="start" >2010</text>
<line x1="554.13" y1="1064.60" x2="554.13" y2="1069.60" stroke="#222" stroke-width="1.3" />
<text transform="translate(545.53,1074.30) rotate(90)" font-size="25" text-anchor="start" >2011</text>
<line x1="581.62" y1="1064.60" x2="581.62" y2="1069.60" stroke="#222" stroke-width="1.3" />
<text transform="translate(573.02,1074.30) rotate(90)" font-size="25" text-anchor="start" >2012</text>
<line x1="609.11" y1="1064.60" x2="609.11" y2="1069.60" stroke="#222" stroke-width="1.3" />
<text transform="translate(600.51,1074.30) rotate(90)" font-size="25" text-anchor="start" >2013</text>
<line x1="636.60" y1="1064.60" x2="636.60" y2="1069.60" stroke="#222" stroke-width="1.3" />
<text transform="translate(628.00,1074.30) rotate(90)" font-size="25" text-anchor="start" >2014</text>
<line x1="664.09" y1="1064.60" x2="664.09" y2="1069.60" stroke="#222" stroke-width="1.3" />
<text transform="translate(655.49,1074.30) rotate(90)" font-size="25" text-anchor="start" >2015</text>
<line x1="691.58" y1="1064.60" x2="691.58" y2="1069.60" stroke="#222" stroke-width="1.3" />
<text transform="translate(682.98,1074.30) rotate(90)" font-size="25" text-anchor="start" >2016</text>
<line x1="719.07" y1="1064.60" x2="719.07" y2="1069.60" stroke="#222" stroke-width="1.3" />
<text transform="translate(710.47,1074.30) rotate(90)" font-size="25" text-anchor="start" >2017</text>
<line x1="746.56" y1="1064.60" x2="746.56" y2="1069.60" stroke="#222" stroke-width="1.3" />
<text transform="translate(737.96,1074.30) rotate(90)" font-size="25" text-anchor="start" >2018</text>
<line x1="774.05" y1="1064.60" x2="774.05" y2="1069.60" stroke="#222" stroke-width="1.3" />
<text transform="translate(765.45,1074.30) rotate(90)" font-size="25" text-anchor="start" >2019</text>
<line x1="801.54" y1="1064.60" x2="801.54" y2="1069.60" stroke="#222" stroke-width="1.3" />
<text transform="translate(792.94,1074.30) rotate(90)" font-size="25" text-anchor="start" >2020</text>
<line x1="348.30" y1="792.60" x2="348.30" y2="1065.60" stroke="#222" stroke-width="1.8" />
<line x1="347.30" y1="1064.60" x2="815.50" y2="1064.60" stroke="#222" stroke-width="1.8" />
<text transform="translate(239.80,950.80) rotate(-90)" font-size="25.3" text-anchor="middle" >Rural per capita net income</text>
<text transform="translate(268.60,951.50) rotate(-90)" font-size="25.3" text-anchor="middle" >(CNY)</text>
<rect x="365.5" y="1142.7" width="18.6" height="14.5" fill="#e0071b" stroke="#333" stroke-width="0.6"/>
<text x="392.80" y="1157.20" font-size="24.8" text-anchor="start" >Dongfeng Village</text>
<rect x="582.3" y="1142.7" width="18.9" height="14.5" fill="#0f69b4" stroke="#333" stroke-width="0.6"/>
<text x="609.90" y="1157.20" font-size="24.7" text-anchor="start" >Jiangsu Province</text>
</g>
<polyline points="975.88,1036.11 1007.36,1008.05 1038.84,968.07 1070.32,924.51 1101.80,911.90 1133.28,858.30 1164.76,853.43 1196.24,837.67 1227.72,842.25 1259.20,838.53 1290.68,833.94" fill="none" stroke="#f39030" stroke-width="1.5"/>
<polyline points="975.88,828.31 1007.36,841.03 1038.84,851.63 1070.32,872.35 1101.80,890.25 1133.28,922.75 1164.76,945.83 1196.24,967.73 1227.72,986.57 1259.20,1010.59 1290.68,1029.20" fill="none" stroke="#2b7d2b" stroke-width="1.5"/>
<polygon points="975.88,1031.71 980.08,1039.11 971.68,1039.11" fill="#f39030"/>
<polygon points="1007.36,1003.65 1011.56,1011.05 1003.16,1011.05" fill="#f39030"/>
<polygon points="1038.84,963.67 1043.04,971.07 1034.64,971.07" fill="#f39030"/>
<polygon points="1070.32,920.11 1074.52,927.51 1066.12,927.51" fill="#f39030"/>
<polygon points="1101.80,907.50 1106.00,914.90 1097.60,914.90" fill="#f39030"/>
<polygon points="1133.28,853.90 1137.48,861.30 1129.08,861.30" fill="#f39030"/>
<polygon points="1164.76,849.03 1168.96,856.43 1160.56,856.43" fill="#f39030"/>
<polygon points="1196.24,833.27 1200.44,840.67 1192.04,840.67" fill="#f39030"/>
<polygon points="1227.72,837.85 1231.92,845.25 1223.52,845.25" fill="#f39030"/>
<polygon points="1259.20,834.13 1263.40,841.53 1255.00,841.53" fill="#f39030"/>
<polygon points="1290.68,829.54 1294.88,836.94 1286.48,836.94" fill="#f39030"/>
<rect x="972.38" y="824.81" width="7.0" height="7.0" fill="#0a7f0a"/>
<rect x="1003.86" y="837.53" width="7.0" height="7.0" fill="#0a7f0a"/>
<rect x="1035.34" y="848.13" width="7.0" height="7.0" fill="#0a7f0a"/>
<rect x="1066.82" y="868.85" width="7.0" height="7.0" fill="#0a7f0a"/>
<rect x="1098.30" y="886.75" width="7.0" height="7.0" fill="#0a7f0a"/>
<rect x="1129.78" y="919.25" width="7.0" height="7.0" fill="#0a7f0a"/>
<rect x="1161.26" y="942.33" width="7.0" height="7.0" fill="#0a7f0a"/>
<rect x="1192.74" y="964.23" width="7.0" height="7.0" fill="#0a7f0a"/>
<rect x="1224.22" y="983.07" width="7.0" height="7.0" fill="#0a7f0a"/>
<rect x="1255.70" y="1007.09" width="7.0" height="7.0" fill="#0a7f0a"/>
<rect x="1287.18" y="1025.70" width="7.0" height="7.0" fill="#0a7f0a"/>
<g font-family="Liberation Serif, Times New Roman, serif" fill="#111">
<text x="906.30" y="774.80" font-size="24.3" text-anchor="start" font-weight="bold" >(b)</text>
<line x1="941.40" y1="1063.51" x2="944.40" y2="1063.51" stroke="#222" stroke-width="1.2" />
<line x1="939.40" y1="1049.18" x2="944.40" y2="1049.18" stroke="#222" stroke-width="1.2" />
<text x="938.60" y="1055.88" font-size="20" text-anchor="end" >4700</text>
<line x1="941.40" y1="1034.85" x2="944.40" y2="1034.85" stroke="#222" stroke-width="1.2" />
<line x1="939.40" y1="1020.52" x2="944.40" y2="1020.52" stroke="#222" stroke-width="1.2" />
<text x="938.60" y="1027.22" font-size="20" text-anchor="end" >4800</text>
<line x1="941.40" y1="1006.19" x2="944.40" y2="1006.19" stroke="#222" stroke-width="1.2" />
<line x1="939.40" y1="991.86" x2="944.40" y2="991.86" stroke="#222" stroke-width="1.2" />
<text x="938.60" y="998.56" font-size="20" text-anchor="end" >4900</text>
<line x1="941.40" y1="977.53" x2="944.40" y2="977.53" stroke="#222" stroke-width="1.2" />
<line x1="939.40" y1="963.20" x2="944.40" y2="963.20" stroke="#222" stroke-width="1.2" />
<text x="938.60" y="969.90" font-size="20" text-anchor="end" >5000</text>
<line x1="941.40" y1="948.87" x2="944.40" y2="948.87" stroke="#222" stroke-width="1.2" />
<line x1="939.40" y1="934.54" x2="944.40" y2="934.54" stroke="#222" stroke-width="1.2" />
<text x="938.60" y="941.24" font-size="20" text-anchor="end" >5100</text>
<line x1="941.40" y1="920.21" x2="944.40" y2="920.21" stroke="#222" stroke-width="1.2" />
<line x1="939.40" y1="905.88" x2="944.40" y2="905.88" stroke="#222" stroke-width="1.2" />
<text x="938.60" y="912.58" font-size="20" text-anchor="end" >5200</text>
<line x1="941.40" y1="891.55" x2="944.40" y2="891.55" stroke="#222" stroke-width="1.2" />
<line x1="939.40" y1="877.22" x2="944.40" y2="877.22" stroke="#222" stroke-width="1.2" />
<text x="938.60" y="883.92" font-size="20" text-anchor="end" >5300</text>
<line x1="941.40" y1="862.89" x2="944.40" y2="862.89" stroke="#222" stroke-width="1.2" />
<line x1="939.40" y1="848.56" x2="944.40" y2="848.56" stroke="#222" stroke-width="1.2" />
<text x="938.60" y="855.26" font-size="20" text-anchor="end" >5400</text>
<line x1="941.40" y1="834.23" x2="944.40" y2="834.23" stroke="#222" stroke-width="1.2" />
<line x1="939.40" y1="819.90" x2="944.40" y2="819.90" stroke="#222" stroke-width="1.2" />
<text x="938.60" y="826.60" font-size="20" text-anchor="end" >5500</text>
<line x1="941.40" y1="805.57" x2="944.40" y2="805.57" stroke="#222" stroke-width="1.2" />
<line x1="1322.20" y1="1040.50" x2="1327.20" y2="1040.50" stroke="#222" stroke-width="1.2" />
<text x="1328.30" y="1047.20" font-size="20" text-anchor="start" >22.00</text>
<line x1="1322.20" y1="1016.95" x2="1325.20" y2="1016.95" stroke="#222" stroke-width="1.2" />
<line x1="1322.20" y1="993.40" x2="1327.20" y2="993.40" stroke="#222" stroke-width="1.2" />
<text x="1328.30" y="1000.10" font-size="20" text-anchor="start" >24.00</text>
<line x1="1322.20" y1="969.85" x2="1325.20" y2="969.85" stroke="#222" stroke-width="1.2" />
<line x1="1322.20" y1="946.30" x2="1327.20" y2="946.30" stroke="#222" stroke-width="1.2" />
<text x="1328.30" y="953.00" font-size="20" text-anchor="start" >26.00</text>
<line x1="1322.20" y1="922.75" x2="1325.20" y2="922.75" stroke="#222" stroke-width="1.2" />
<line x1="1322.20" y1="899.20" x2="1327.20" y2="899.20" stroke="#222" stroke-width="1.2" />
<text x="1328.30" y="905.90" font-size="20" text-anchor="start" >28.00</text>
<line x1="1322.20" y1="875.65" x2="1325.20" y2="875.65" stroke="#222" stroke-width="1.2" />
<line x1="1322.20" y1="852.10" x2="1327.20" y2="852.10" stroke="#222" stroke-width="1.2" />
<text x="1328.30" y="858.80" font-size="20" text-anchor="start" >30.00</text>
<line x1="1322.20" y1="828.55" x2="1325.20" y2="828.55" stroke="#222" stroke-width="1.2" />
<line x1="1322.20" y1="805.00" x2="1327.20" y2="805.00" stroke="#222" stroke-width="1.2" />
<text x="1328.30" y="811.70" font-size="20" text-anchor="start" >32.00</text>
<line x1="944.40" y1="1063.90" x2="944.40" y2="1068.40" stroke="#222" stroke-width="1.2" />
<text transform="translate(937.60,1069.90) rotate(90)" font-size="20" text-anchor="start" >2009</text>
<line x1="975.88" y1="1063.90" x2="975.88" y2="1068.40" stroke="#222" stroke-width="1.2" />
<text transform="translate(969.08,1069.90) rotate(90)" font-size="20" text-anchor="start" >2010</text>
<line x1="1007.36" y1="1063.90" x2="1007.36" y2="1068.40" stroke="#222" stroke-width="1.2" />
<text transform="translate(1000.56,1069.90) rotate(90)" font-size="20" text-anchor="start" >2011</text>
<line x1="1038.84" y1="1063.90" x2="1038.84" y2="1068.40" stroke="#222" stroke-width="1.2" />
<text transform="translate(1032.04,1069.90) rotate(90)" font-size="20" text-anchor="start" >2012</text>
<line x1="1070.32" y1="1063.90" x2="1070.32" y2="1068.40" stroke="#222" stroke-width="1.2" />
<text transform="translate(1063.52,1069.90) rotate(90)" font-size="20" text-anchor="start" >2013</text>
<line x1="1101.80" y1="1063.90" x2="1101.80" y2="1068.40" stroke="#222" stroke-width="1.2" />
<text transform="translate(1095.00,1069.90) rotate(90)" font-size="20" text-anchor="start" >2014</text>
<line x1="1133.28" y1="1063.90" x2="1133.28" y2="1068.40" stroke="#222" stroke-width="1.2" />
<text transform="translate(1126.48,1069.90) rotate(90)" font-size="20" text-anchor="start" >2015</text>
<line x1="1164.76" y1="1063.90" x2="1164.76" y2="1068.40" stroke="#222" stroke-width="1.2" />
<text transform="translate(1157.96,1069.90) rotate(90)" font-size="20" text-anchor="start" >2016</text>
<line x1="1196.24" y1="1063.90" x2="1196.24" y2="1068.40" stroke="#222" stroke-width="1.2" />
<text transform="translate(1189.44,1069.90) rotate(90)" font-size="20" text-anchor="start" >2017</text>
<line x1="1227.72" y1="1063.90" x2="1227.72" y2="1068.40" stroke="#222" stroke-width="1.2" />
<text transform="translate(1220.92,1069.90) rotate(90)" font-size="20" text-anchor="start" >2018</text>
<line x1="1259.20" y1="1063.90" x2="1259.20" y2="1068.40" stroke="#222" stroke-width="1.2" />
<text transform="translate(1252.40,1069.90) rotate(90)" font-size="20" text-anchor="start" >2019</text>
<line x1="1290.68" y1="1063.90" x2="1290.68" y2="1068.40" stroke="#222" stroke-width="1.2" />
<text transform="translate(1283.88,1069.90) rotate(90)" font-size="20" text-anchor="start" >2020</text>
<line x1="1322.16" y1="1063.90" x2="1322.16" y2="1068.40" stroke="#222" stroke-width="1.2" />
<text transform="translate(1315.36,1069.90) rotate(90)" font-size="20" text-anchor="start" >2021</text>
<line x1="944.40" y1="805.00" x2="944.40" y2="1064.70" stroke="#222" stroke-width="1.5" />
<line x1="1322.20" y1="804.50" x2="1322.20" y2="1064.70" stroke="#222" stroke-width="1.5" />
<line x1="943.70" y1="1063.90" x2="1322.90" y2="1063.90" stroke="#222" stroke-width="1.5" />
<text transform="translate(856.20,934.10) rotate(-90)" font-size="20" text-anchor="middle" >Rural population in Dongfeng Village</text>
<text transform="translate(883.20,934.00) rotate(-90)" font-size="20" text-anchor="middle" >(person)</text>
<text transform="translate(1403.40,937.30) rotate(-90)" font-size="20.35" text-anchor="middle" >Rural population in Jiangsu Province</text>
<text transform="translate(1428.60,934.50) rotate(-90)" font-size="20" text-anchor="middle" >(million person)</text>
<line x1="924.70" y1="1146.80" x2="970.40" y2="1146.80" stroke="#f39030" stroke-width="1.5" />
<polygon points="947.60,1142.40 951.80,1149.80 943.40,1149.80" fill="#f39030"/>
<text x="976.00" y="1153.40" font-size="19.6" text-anchor="start" >Dongfeng Village</text>
<line x1="1120.30" y1="1146.80" x2="1166.00" y2="1146.80" stroke="#2b7d2b" stroke-width="1.5" />
<rect x="1139.60" y="1143.30" width="7.0" height="7.0" fill="#0a7f0a"/>
<text x="1171.00" y="1153.40" font-size="19.8" text-anchor="start" >Jiangsu Province</text>
</g>
<g transform="translate(0,0)">
<defs><clipPath id="mca"><polygon points="219.1,1446.9 378.1,1439.7 391.4,1457.8 400.0,1473.5 424.2,1490.5 448.4,1512.2 462.9,1524.3 484.6,1538.8 508.8,1550.9 527.0,1560.6 539.1,1570.3 551.1,1584.8 560.8,1599.3 569.3,1623.5 576.5,1653.7 586.2,1698.4 595.3,1760.0 557.2,1764.3 520.9,1766.1 478.6,1763.7 450.8,1761.9 450.8,1715.9 442.3,1715.9 441.1,1756.4 458.0,1774.5 458.6,1787.8 453.2,1797.5 436.3,1796.9 432.6,1833.8 401.0,1836.2 369.6,1835.0 365.4,1867.7 350.9,1867.7 350.9,1883.4 321.3,1883.2 321.3,1874.9 281.3,1874.9 281.3,1890.0 254.7,1888.8 255.3,1859.8 242.0,1855.0 243.3,1824.1 228.1,1821.1 229.3,1794.5 221.5,1793.3 230.6,1706.8 254.1,1705.6 258.4,1659.7 262.0,1590.8 265.6,1564.2 247.5,1557.6 252.3,1514.0 252.3,1507.4 219.1,1462.0"/></clipPath></defs>
<polygon points="219.1,1446.9 378.1,1439.7 391.4,1457.8 400.0,1473.5 424.2,1490.5 448.4,1512.2 462.9,1524.3 484.6,1538.8 508.8,1550.9 527.0,1560.6 539.1,1570.3 551.1,1584.8 560.8,1599.3 569.3,1623.5 576.5,1653.7 586.2,1698.4 595.3,1760.0 557.2,1764.3 520.9,1766.1 478.6,1763.7 450.8,1761.9 450.8,1715.9 442.3,1715.9 441.1,1756.4 458.0,1774.5 458.6,1787.8 453.2,1797.5 436.3,1796.9 432.6,1833.8 401.0,1836.2 369.6,1835.0 365.4,1867.7 350.9,1867.7 350.9,1883.4 321.3,1883.2 321.3,1874.9 281.3,1874.9 281.3,1890.0 254.7,1888.8 255.3,1859.8 242.0,1855.0 243.3,1824.1 228.1,1821.1 229.3,1794.5 221.5,1793.3 230.6,1706.8 254.1,1705.6 258.4,1659.7 262.0,1590.8 265.6,1564.2 247.5,1557.6 252.3,1514.0 252.3,1507.4 219.1,1462.0" fill="#fff34f"/>
<g clip-path="url(#mca)">
<rect x="219.5" y="1449.5" width="158.5" height="12.0" fill="#f7a9c6"/>
<rect x="258.4" y="1488.0" width="36.2" height="26.6" fill="#f7a9c6"/>
<rect x="294.6" y="1461.4" width="43.6" height="36.3" fill="#f7a9c6"/>
<rect x="323.7" y="1497.7" width="24.2" height="73.8" fill="#f7a9c6"/>
<rect x="347.9" y="1517.0" width="33.8" height="54.5" fill="#f7a9c6"/>
<rect x="333.3" y="1571.5" width="48.4" height="19.3" fill="#f7a9c6"/>
<rect x="381.7" y="1494.0" width="28.3" height="24.3" fill="#f7a9c6"/>
<rect x="381.7" y="1544.9" width="28.3" height="25.4" fill="#f7a9c6"/>
<rect x="400.0" y="1541.2" width="50.8" height="26.6" fill="#f7a9c6"/>
<rect x="490.1" y="1592.0" width="35.7" height="25.4" fill="#f7a9c6"/>
<rect x="490.7" y="1632.0" width="59.3" height="10.8" fill="#f7a9c6"/>
<rect x="404.8" y="1625.9" width="56.9" height="26.6" fill="#f7a9c6"/>
<rect x="272.9" y="1622.3" width="32.6" height="37.4" fill="#f7a9c6"/>
<rect x="263.2" y="1600.5" width="13.3" height="23.0" fill="#f7a9c6"/>
<rect x="450.8" y="1717.1" width="94.3" height="23.6" fill="#f7a9c6"/>
<rect x="472.6" y="1691.0" width="14.4" height="21.9" fill="#f7a9c6"/>
<rect x="490.7" y="1699.6" width="54.4" height="16.3" fill="#f7a9c6"/>
<rect x="321.2" y="1766.0" width="21.8" height="34.0" fill="#f7a9c6"/>
<rect x="343.0" y="1769.7" width="48.0" height="7.3" fill="#f7a9c6"/>
<rect x="355.0" y="1783.0" width="17.0" height="23.0" fill="#f7a9c6"/>
<rect x="320.0" y="1806.0" width="52.0" height="15.7" fill="#f7a9c6"/>
<rect x="343.0" y="1777.0" width="7.0" height="13.0" fill="#f7a9c6"/>
<rect x="372.0" y="1777.0" width="8.0" height="9.0" fill="#f7a9c6"/>
<rect x="271.7" y="1794.5" width="47.1" height="7.9" fill="#f7a9c6"/>
<rect x="269.2" y="1814.4" width="18.2" height="10.9" fill="#f7a9c6"/>
<rect x="333.3" y="1752.8" width="76.2" height="12.1" fill="#f7a9c6"/>
<rect x="271.7" y="1650.0" width="31.4" height="12.0" fill="#f7a9c6"/>
<rect x="338.2" y="1461.4" width="9.7" height="17.0" fill="#f7a9c6"/>
<rect x="347.9" y="1461.0" width="28.1" height="5.0" fill="#f7a9c6"/>
<rect x="300.0" y="1818.0" width="35.0" height="8.0" fill="#f7a9c6"/>
<polygon points="400.0,1722.0 426.0,1722.0 458.0,1775.0 458.0,1788.0 453.0,1798.0 436.0,1797.0 400.0,1770.0" fill="#f7a9c6"/>
<rect x="295.9" y="1473.5" width="31.4" height="9.7" fill="#0b7a14"/>
<rect x="312.8" y="1447.0" width="19.3" height="4.8" fill="#0b7a14"/>
<rect x="373.2" y="1549.7" width="8.5" height="9.7" fill="#0b7a14"/>
<rect x="252.3" y="1506.2" width="5.5" height="7.2" fill="#0b7a14"/>
<rect x="442.9" y="1549.7" width="6.1" height="16.9" fill="#0b7a14"/>
<rect x="478.0" y="1560.0" width="7.9" height="10.9" fill="#0b7a14"/>
<rect x="470.1" y="1622.3" width="8.5" height="9.7" fill="#0b7a14"/>
<rect x="285.0" y="1697.0" width="27.8" height="11.0" fill="#0b7a14"/>
<rect x="293.0" y="1687.5" width="9.0" height="9.5" fill="#0b7a14"/>
<rect x="375.6" y="1721.3" width="34.4" height="11.7" fill="#0b7a14"/>
<rect x="358.8" y="1745.5" width="20.5" height="8.5" fill="#0b7a14"/>
<rect x="377.0" y="1744.0" width="33.0" height="7.0" fill="#0b7a14"/>
<rect x="355.0" y="1756.4" width="24.0" height="4.8" fill="#0b7a14"/>
<rect x="395.0" y="1752.0" width="15.0" height="8.0" fill="#0b7a14"/>
<rect x="400.0" y="1734.6" width="12.0" height="30.3" fill="#0b7a14"/>
<rect x="530.0" y="1627.0" width="21.0" height="8.0" fill="#0b7a14"/>
<polygon points="294.6,1494.7 340.0,1501.5 340.0,1507.4 294.6,1500.5" fill="#0b7a14"/>
<polygon points="439.9,1756.4 458.0,1775.8 458.0,1770.0 446.0,1757.0" fill="#0b7a14"/>
<polygon points="439.9,1756.4 450.0,1763.0 458.0,1775.8 441.0,1775.0" fill="#0b7a14"/>
<rect x="224.0" y="1463.5" width="33.0" height="6.5" fill="#f7a9c6"/>
<rect x="236.0" y="1473.0" width="14.0" height="7.0" fill="#f7a9c6"/>
<rect x="258.0" y="1463.0" width="36.0" height="7.5" fill="#f7a9c6"/>
<rect x="276.0" y="1450.5" width="24.0" height="8.5" fill="#fff34f"/>
<rect x="263.0" y="1508.0" width="30.0" height="3.0" fill="#9dc3e8"/>
<rect x="294.6" y="1500.5" width="30.4" height="3.5" fill="#9dc3e8"/>
<rect x="330.0" y="1524.0" width="6.0" height="3.5" fill="#9dc3e8"/>
<rect x="349.0" y="1529.0" width="11.0" height="5.0" fill="#9dc3e8"/>
<rect x="361.0" y="1536.0" width="20.0" height="6.0" fill="#9dc3e8"/>
<rect x="388.0" y="1543.7" width="10.0" height="5.3" fill="#9dc3e8"/>
<rect x="452.0" y="1563.0" width="24.0" height="10.0" fill="#9dc3e8"/>
<rect x="475.0" y="1542.5" width="5.0" height="31.5" fill="#9dc3e8"/>
<rect x="270.5" y="1656.0" width="32.5" height="7.3" fill="#9dc3e8"/>
<rect x="320.0" y="1806.0" width="35.0" height="3.6" fill="#9dc3e8"/>
<rect x="266.8" y="1827.0" width="20.6" height="5.6" fill="#9dc3e8"/>
<rect x="380.0" y="1738.0" width="20.0" height="7.0" fill="#9dc3e8"/>
<rect x="450.8" y="1738.9" width="14.5" height="3.1" fill="#9dc3e8"/>
<rect x="489.5" y="1738.3" width="53.2" height="4.7" fill="#9dc3e8"/>
<rect x="500.0" y="1611.0" width="12.0" height="5.5" fill="#9dc3e8"/>
<rect x="239.0" y="1518.0" width="8.0" height="6.0" fill="#9dc3e8"/>
<rect x="356.0" y="1512.0" width="12.0" height="4.0" fill="#9dc3e8"/>
<polygon points="446.0,1517.0 452.0,1517.0 467.7,1533.0 467.7,1536.0 455.0,1536.0" fill="#9dc3e8"/>
<polygon points="516.0,1561.8 520.0,1561.8 524.5,1571.5 516.0,1571.5" fill="#9dc3e8"/>
<polyline points="487.0,1669.3 533.0,1664.5" fill="none" stroke="#9dc3e8" stroke-width="1.8" stroke-linejoin="round"/>
<rect x="441.0" y="1675.4" width="6.0" height="15.6" fill="#f7a9c6"/>
<polyline points="219.1,1449.2 300.0,1445.5 378.1,1441.5" fill="none" stroke="#9dc3e8" stroke-width="5.0" stroke-linejoin="round"/>
<polyline points="219.1,1451.0 290.0,1448.0" fill="none" stroke="#9dc3e8" stroke-width="3.0" stroke-linejoin="round"/>
<polyline points="261.4,1591.2 410.0,1611.6 477.4,1622.3" fill="none" stroke="#9dc3e8" stroke-width="4.2" stroke-linejoin="round"/>
<polyline points="477.6,1573.5 477.6,1622.3" fill="none" stroke="#9dc3e8" stroke-width="2.2" stroke-linejoin="round"/>
<polyline points="230.6,1708.2 410.0,1713.9 580.2,1719.4" fill="none" stroke="#9dc3e8" stroke-width="4.2" stroke-linejoin="round"/>
<polyline points="549.5,1717.0 556.5,1764.0" fill="none" stroke="#9dc3e8" stroke-width="2.8" stroke-linejoin="round"/>
<polyline points="230.9,1707.0 221.9,1793.0" fill="none" stroke="#9dc3e8" stroke-width="2.6" stroke-linejoin="round"/>
<polyline points="263.2,1710.5 251.1,1855.0" fill="none" stroke="#9dc3e8" stroke-width="2.4" stroke-linejoin="round"/>
<polyline points="242.0,1855.2 365.4,1867.3" fill="none" stroke="#9dc3e8" stroke-width="4.0" stroke-linejoin="round"/>
<polyline points="294.6,1751.6 285.6,1855.6" fill="none" stroke="#9dc3e8" stroke-width="1.3" stroke-linejoin="round"/>
<polyline points="372.0,1712.5 365.5,1836.0" fill="none" stroke="#9dc3e8" stroke-width="1.3" stroke-linejoin="round"/>
<polyline points="330.5,1712.0 321.0,1836.0" fill="none" stroke="#9dc3e8" stroke-width="1.0" stroke-linejoin="round"/>
<polyline points="378.1,1439.7 391.4,1457.8 400.0,1473.5 424.2,1490.5 448.4,1512.2 462.9,1524.3 484.6,1538.8 508.8,1550.9 527.0,1560.6 539.1,1570.3 551.1,1584.8 560.8,1599.3 569.3,1623.5 576.5,1653.7 586.2,1698.4 595.3,1760.0" fill="none" stroke="#9dc3e8" stroke-width="4.2" stroke-linejoin="round"/>
<polyline points="219.1,1462.0 378.0,1456.0" fill="none" stroke="#6b3a08" stroke-width="1.12" stroke-linejoin="round"/>
<polyline points="337.6,1440.9 344.2,1571.5 340.0,1601.7 334.5,1650.0 329.1,1710.5 323.7,1754.0 314.0,1862.8 313.5,1868.0" fill="none" stroke="#6b3a08" stroke-width="1.26" stroke-linejoin="round"/>
<polyline points="257.2,1462.6 252.3,1507.4" fill="none" stroke="#6b3a08" stroke-width="0.91" stroke-linejoin="round"/>
<polyline points="294.6,1495.3 283.8,1590.8" fill="none" stroke="#6b3a08" stroke-width="1.12" stroke-linejoin="round"/>
<polyline points="277.7,1594.4 270.5,1659.7 264.4,1705.6" fill="none" stroke="#6b3a08" stroke-width="0.98" stroke-linejoin="round"/>
<polyline points="287.4,1570.3 336.0,1571.3" fill="none" stroke="#6b3a08" stroke-width="0.84" stroke-linejoin="round"/>
<polyline points="376.9,1456.6 381.7,1605.3" fill="none" stroke="#6b3a08" stroke-width="0.98" stroke-linejoin="round"/>
<polyline points="479.2,1573.9 478.6,1650.0 478.6,1763.7" fill="none" stroke="#6b3a08" stroke-width="1.26" stroke-linejoin="round"/>
<polyline points="420.6,1512.2 443.5,1523.1" fill="none" stroke="#6b3a08" stroke-width="0.98" stroke-linejoin="round"/>
<polyline points="443.5,1517.0 450.2,1573.9" fill="none" stroke="#6b3a08" stroke-width="0.7" stroke-linejoin="round"/>
<polyline points="479.2,1590.8 524.5,1591.4" fill="none" stroke="#6b3a08" stroke-width="0.84" stroke-linejoin="round"/>
<polyline points="479.2,1602.3 553.6,1606.5" fill="none" stroke="#6b3a08" stroke-width="0.84" stroke-linejoin="round"/>
<polyline points="536.0,1651.3 568.1,1647.7" fill="none" stroke="#6b3a08" stroke-width="0.98" stroke-linejoin="round"/>
<polyline points="542.1,1682.0 572.9,1677.2" fill="none" stroke="#6b3a08" stroke-width="0.98" stroke-linejoin="round"/>
<polyline points="543.3,1691.7 575.3,1688.1" fill="none" stroke="#6b3a08" stroke-width="0.98" stroke-linejoin="round"/>
<polyline points="542.1,1682.0 547.5,1715.9" fill="none" stroke="#6b3a08" stroke-width="0.98" stroke-linejoin="round"/>
<polyline points="422.4,1673.0 418.1,1711.7" fill="none" stroke="#6b3a08" stroke-width="0.84" stroke-linejoin="round"/>
<polyline points="426.0,1716.0 409.0,1771.0 400.0,1835.0" fill="none" stroke="#6b3a08" stroke-width="0.7" stroke-linejoin="round"/>
<polyline points="237.2,1744.9 323.0,1752.8" fill="none" stroke="#6b3a08" stroke-width="0.91" stroke-linejoin="round"/>
<polyline points="260.2,1770.3 320.0,1774.5" fill="none" stroke="#6b3a08" stroke-width="0.91" stroke-linejoin="round"/>
<polyline points="256.0,1800.5 269.9,1801.8 266.8,1827.7" fill="none" stroke="#6b3a08" stroke-width="0.77" stroke-linejoin="round"/>
<polyline points="288.0,1833.8 314.0,1836.2" fill="none" stroke="#6b3a08" stroke-width="0.84" stroke-linejoin="round"/>
<polyline points="343.0,1682.0 405.9,1691.7" fill="none" stroke="#6b3a08" stroke-width="0.91" stroke-linejoin="round"/>
<polyline points="360.5,1650.0 356.9,1683.9" fill="none" stroke="#6b3a08" stroke-width="0.91" stroke-linejoin="round"/>
<polyline points="381.1,1688.7 379.3,1709.3" fill="none" stroke="#6b3a08" stroke-width="0.84" stroke-linejoin="round"/>
<polyline points="255.3,1859.8 350.9,1868.9" fill="none" stroke="#6b3a08" stroke-width="0.98" stroke-linejoin="round"/>
<polyline points="281.3,1862.8 280.7,1890.0" fill="none" stroke="#6b3a08" stroke-width="0.91" stroke-linejoin="round"/>
<polyline points="320.6,1866.4 321.2,1881.6" fill="none" stroke="#6b3a08" stroke-width="0.91" stroke-linejoin="round"/>
<polyline points="327.9,1757.6 410.0,1770.9 458.6,1788.5" fill="none" stroke="#6b3a08" stroke-width="0.77" stroke-linejoin="round"/>
<polyline points="327.3,1741.9 361.1,1745.5" fill="none" stroke="#6b3a08" stroke-width="0.77" stroke-linejoin="round"/>
<polyline points="336.0,1571.3 410.0,1572.7 479.0,1573.6" fill="none" stroke="#6b3a08" stroke-width="0.84" stroke-linejoin="round"/>
</g>
</g>
<text x="421.8" y="1872.5" font-size="24" font-weight="bold" font-family="Liberation Serif, serif" fill="#111">(a)</text>
<g transform="translate(414.5,-3)">
<defs><clipPath id="mcb"><polygon points="219.1,1446.9 378.1,1439.7 391.4,1457.8 400.0,1473.5 424.2,1490.5 448.4,1512.2 462.9,1524.3 484.6,1538.8 508.8,1550.9 527.0,1560.6 539.1,1570.3 551.1,1584.8 560.8,1599.3 569.3,1623.5 576.5,1653.7 586.2,1698.4 595.3,1760.0 557.2,1764.3 520.9,1766.1 478.6,1763.7 450.8,1761.9 450.8,1715.9 442.3,1715.9 441.1,1756.4 458.0,1774.5 458.6,1787.8 453.2,1797.5 436.3,1796.9 432.6,1833.8 401.0,1836.2 369.6,1835.0 365.4,1867.7 350.9,1867.7 350.9,1883.4 321.3,1883.2 321.3,1874.9 281.3,1874.9 281.3,1890.0 254.7,1888.8 255.3,1859.8 242.0,1855.0 243.3,1824.1 228.1,1821.1 229.3,1794.5 221.5,1793.3 230.6,1706.8 254.1,1705.6 258.4,1659.7 262.0,1590.8 265.6,1564.2 247.5,1557.6 252.3,1514.0 252.3,1507.4 219.1,1462.0"/></clipPath></defs>
<polygon points="219.1,1446.9 378.1,1439.7 391.4,1457.8 400.0,1473.5 424.2,1490.5 448.4,1512.2 462.9,1524.3 484.6,1538.8 508.8,1550.9 527.0,1560.6 539.1,1570.3 551.1,1584.8 560.8,1599.3 569.3,1623.5 576.5,1653.7 586.2,1698.4 595.3,1760.0 557.2,1764.3 520.9,1766.1 478.6,1763.7 450.8,1761.9 450.8,1715.9 442.3,1715.9 441.1,1756.4 458.0,1774.5 458.6,1787.8 453.2,1797.5 436.3,1796.9 432.6,1833.8 401.0,1836.2 369.6,1835.0 365.4,1867.7 350.9,1867.7 350.9,1883.4 321.3,1883.2 321.3,1874.9 281.3,1874.9 281.3,1890.0 254.7,1888.8 255.3,1859.8 242.0,1855.0 243.3,1824.1 228.1,1821.1 229.3,1794.5 221.5,1793.3 230.6,1706.8 254.1,1705.6 258.4,1659.7 262.0,1590.8 265.6,1564.2 247.5,1557.6 252.3,1514.0 252.3,1507.4 219.1,1462.0" fill="#fff34f"/>
<g clip-path="url(#mcb)">
<rect x="219.5" y="1447.5" width="50.3" height="14.5" fill="#f7a9c6"/>
<rect x="277.6" y="1447.5" width="17.5" height="11.5" fill="#f7a9c6"/>
<rect x="257.7" y="1462.0" width="18.1" height="12.1" fill="#f7a9c6"/>
<rect x="283.1" y="1480.2" width="11.9" height="35.0" fill="#f7a9c6"/>
<rect x="295.0" y="1480.2" width="32.2" height="11.8" fill="#f7a9c6"/>
<rect x="318.0" y="1492.0" width="9.2" height="23.2" fill="#f7a9c6"/>
<rect x="257.0" y="1504.3" width="14.0" height="9.7" fill="#f7a9c6"/>
<rect x="321.7" y="1517.6" width="9.7" height="36.4" fill="#f7a9c6"/>
<rect x="341.1" y="1477.7" width="19.9" height="93.1" fill="#f7a9c6"/>
<rect x="361.0" y="1477.7" width="19.9" height="13.3" fill="#f7a9c6"/>
<rect x="359.2" y="1514.0" width="23.0" height="46.0" fill="#f7a9c6"/>
<rect x="343.5" y="1572.0" width="38.7" height="12.0" fill="#f7a9c6"/>
<rect x="383.4" y="1550.3" width="27.1" height="21.7" fill="#f7a9c6"/>
<rect x="308.4" y="1599.9" width="20.6" height="38.7" fill="#f7a9c6"/>
<rect x="349.6" y="1604.7" width="29.0" height="33.9" fill="#f7a9c6"/>
<rect x="262.5" y="1595.0" width="14.5" height="26.6" fill="#f7a9c6"/>
<rect x="273.4" y="1621.6" width="31.4" height="41.1" fill="#f7a9c6"/>
<rect x="347.1" y="1638.6" width="13.3" height="24.4" fill="#f7a9c6"/>
<rect x="404.0" y="1618.0" width="6.5" height="23.0" fill="#f7a9c6"/>
<rect x="418.6" y="1540.6" width="31.5" height="32.7" fill="#f7a9c6"/>
<rect x="400.5" y="1545.5" width="18.1" height="27.8" fill="#f7a9c6"/>
<rect x="451.3" y="1565.4" width="23.0" height="7.9" fill="#f7a9c6"/>
<rect x="490.0" y="1590.2" width="36.3" height="27.8" fill="#f7a9c6"/>
<rect x="479.1" y="1618.0" width="10.9" height="45.0" fill="#f7a9c6"/>
<rect x="490.0" y="1629.5" width="56.8" height="15.1" fill="#f7a9c6"/>
<rect x="404.1" y="1626.5" width="31.5" height="14.5" fill="#f7a9c6"/>
<rect x="467.0" y="1607.0" width="10.9" height="11.0" fill="#f7a9c6"/>
<rect x="229.8" y="1741.3" width="7.3" height="8.4" fill="#f7a9c6"/>
<rect x="269.8" y="1794.5" width="49.5" height="8.5" fill="#f7a9c6"/>
<rect x="310.9" y="1777.5" width="10.8" height="17.0" fill="#f7a9c6"/>
<rect x="321.7" y="1758.2" width="39.9" height="66.5" fill="#f7a9c6"/>
<rect x="361.6" y="1764.2" width="48.4" height="17.0" fill="#f7a9c6"/>
<rect x="361.6" y="1786.0" width="13.4" height="35.0" fill="#f7a9c6"/>
<rect x="268.5" y="1812.6" width="19.4" height="12.1" fill="#f7a9c6"/>
<rect x="269.8" y="1803.0" width="37.4" height="7.2" fill="#f7a9c6"/>
<rect x="377.4" y="1717.0" width="33.1" height="54.5" fill="#f7a9c6"/>
<rect x="479.1" y="1653.0" width="8.5" height="39.9" fill="#f7a9c6"/>
<rect x="470.6" y="1674.8" width="7.3" height="38.7" fill="#f7a9c6"/>
<rect x="440.4" y="1676.0" width="6.6" height="15.7" fill="#f7a9c6"/>
<rect x="451.3" y="1717.1" width="58.0" height="23.0" fill="#f7a9c6"/>
<rect x="509.3" y="1718.3" width="36.3" height="19.3" fill="#f7a9c6"/>
<rect x="473.0" y="1737.6" width="14.6" height="25.4" fill="#f7a9c6"/>
<rect x="531.1" y="1700.0" width="13.3" height="13.5" fill="#f7a9c6"/>
<rect x="412.6" y="1762.0" width="15.7" height="9.5" fill="#9dc3e8"/>
<polygon points="556.5,1606.0 562.5,1606.0 572.2,1663.0 566.2,1663.0" fill="#f7a9c6"/>
<polygon points="572.2,1653.0 578.2,1653.0 595.2,1760.6 589.1,1760.6" fill="#f7a9c6"/>
<polygon points="400.0,1722.0 426.0,1722.0 458.0,1775.0 458.0,1788.0 453.0,1798.0 436.0,1797.0 400.0,1770.0" fill="#f7a9c6"/>
<polygon points="233.0,1480.8 271.6,1480.8 271.6,1504.3 257.0,1504.3 256.4,1512.8 252.5,1513.4 252.3,1507.4" fill="#f77a38"/>
<rect x="295.1" y="1442.7" width="41.2" height="16.3" fill="#e81e2b"/>
<rect x="339.3" y="1440.9" width="53.7" height="17.6" fill="#e81e2b"/>
<rect x="225.0" y="1463.2" width="31.4" height="6.7" fill="#e81e2b"/>
<rect x="275.8" y="1462.0" width="61.7" height="15.7" fill="#e81e2b"/>
<rect x="340.5" y="1460.2" width="39.3" height="16.3" fill="#e81e2b"/>
<rect x="269.8" y="1452.3" width="7.2" height="6.7" fill="#e81e2b"/>
<rect x="327.2" y="1480.2" width="11.5" height="18.7" fill="#e81e2b"/>
<rect x="342.3" y="1480.2" width="7.3" height="16.9" fill="#e81e2b"/>
<rect x="331.4" y="1557.5" width="9.7" height="42.5" fill="#e81e2b"/>
<rect x="341.1" y="1603.5" width="8.5" height="59.5" fill="#e81e2b"/>
<rect x="331.4" y="1603.5" width="9.7" height="59.5" fill="#e81e2b"/>
<rect x="342.3" y="1507.0" width="6.7" height="13.0" fill="#e81e2b"/>
<rect x="321.7" y="1552.1" width="19.4" height="9.1" fill="#e81e2b"/>
<rect x="332.6" y="1520.0" width="7.7" height="12.0" fill="#e81e2b"/>
<rect x="336.5" y="1532.0" width="3.8" height="12.0" fill="#e81e2b"/>
<rect x="342.7" y="1506.9" width="7.8" height="19.3" fill="#e81e2b"/>
<rect x="345.6" y="1558.6" width="13.6" height="12.1" fill="#e81e2b"/>
<rect x="345.6" y="1573.1" width="8.3" height="9.9" fill="#e81e2b"/>
<rect x="354.8" y="1520.0" width="4.4" height="12.0" fill="#e81e2b"/>
<rect x="366.0" y="1522.3" width="5.8" height="7.7" fill="#e81e2b"/>
<rect x="345.3" y="1561.2" width="15.7" height="9.0" fill="#e81e2b"/>
<rect x="347.1" y="1573.3" width="8.5" height="16.9" fill="#e81e2b"/>
<rect x="383.4" y="1557.5" width="27.1" height="8.5" fill="#e81e2b"/>
<rect x="390.7" y="1534.6" width="8.4" height="7.2" fill="#e81e2b"/>
<rect x="333.8" y="1520.0" width="4.9" height="8.5" fill="#e81e2b"/>
<rect x="355.0" y="1521.3" width="4.2" height="8.4" fill="#e81e2b"/>
<rect x="366.5" y="1522.5" width="4.8" height="7.2" fill="#e81e2b"/>
<rect x="262.5" y="1618.0" width="4.8" height="6.0" fill="#e81e2b"/>
<rect x="297.6" y="1626.5" width="6.0" height="12.1" fill="#e81e2b"/>
<rect x="281.8" y="1647.0" width="15.8" height="8.5" fill="#e81e2b"/>
<rect x="404.0" y="1641.0" width="6.5" height="13.3" fill="#e81e2b"/>
<rect x="402.9" y="1545.5" width="13.3" height="3.6" fill="#e81e2b"/>
<rect x="400.5" y="1562.4" width="7.3" height="4.8" fill="#e81e2b"/>
<rect x="421.1" y="1564.8" width="10.8" height="3.6" fill="#e81e2b"/>
<rect x="519.0" y="1591.4" width="6.0" height="6.0" fill="#e81e2b"/>
<rect x="413.8" y="1615.6" width="6.7" height="10.9" fill="#e81e2b"/>
<rect x="425.9" y="1635.0" width="26.6" height="13.2" fill="#e81e2b"/>
<rect x="404.1" y="1639.8" width="21.8" height="12.1" fill="#e81e2b"/>
<rect x="481.5" y="1625.3" width="6.1" height="13.3" fill="#e81e2b"/>
<rect x="491.2" y="1707.4" width="39.9" height="6.1" fill="#e81e2b"/>
<rect x="508.1" y="1700.8" width="23.0" height="6.6" fill="#e81e2b"/>
<rect x="458.5" y="1734.0" width="7.3" height="6.0" fill="#e81e2b"/>
<rect x="467.0" y="1723.0" width="6.0" height="6.0" fill="#e81e2b"/>
<rect x="400.5" y="1723.1" width="15.7" height="8.5" fill="#e81e2b"/>
<rect x="539.0" y="1702.0" width="4.0" height="10.0" fill="#e81e2b"/>
<rect x="533.0" y="1706.0" width="3.0" height="6.0" fill="#e81e2b"/>
<rect x="471.0" y="1681.0" width="4.0" height="6.0" fill="#e81e2b"/>
<rect x="471.0" y="1703.0" width="4.0" height="6.0" fill="#e81e2b"/>
<rect x="348.0" y="1767.0" width="5.0" height="5.0" fill="#e81e2b"/>
<rect x="339.0" y="1780.0" width="6.0" height="5.0" fill="#e81e2b"/>
<polygon points="323.5,1653.0 331.4,1653.0 329.5,1707.4 319.3,1707.4" fill="#e81e2b"/>
<polygon points="332.6,1653.0 345.3,1653.0 343.5,1707.4 331.4,1707.4" fill="#e81e2b"/>
<rect x="352.0" y="1505.6" width="9.6" height="3.6" fill="#0b7a14"/>
<rect x="383.4" y="1543.0" width="19.4" height="11.0" fill="#0b7a14"/>
<rect x="357.4" y="1581.1" width="20.6" height="10.3" fill="#0b7a14"/>
<rect x="494.8" y="1607.1" width="26.6" height="10.9" fill="#0b7a14"/>
<rect x="377.4" y="1723.1" width="6.6" height="44.8" fill="#0b7a14"/>
<rect x="384.0" y="1723.1" width="20.0" height="6.9" fill="#0b7a14"/>
<rect x="384.0" y="1740.0" width="20.0" height="6.0" fill="#0b7a14"/>
<rect x="384.0" y="1752.0" width="14.0" height="10.0" fill="#0b7a14"/>
<rect x="358.0" y="1746.1" width="19.4" height="6.1" fill="#0b7a14"/>
<rect x="400.5" y="1737.6" width="14.5" height="26.6" fill="#0b7a14"/>
<rect x="428.3" y="1764.2" width="14.5" height="7.3" fill="#0b7a14"/>
<polygon points="388.3,1486.2 392.0,1486.2 399.1,1505.6 396.0,1505.6" fill="#0b7a14"/>
<rect x="475.5" y="1543.0" width="13.3" height="30.3" fill="#9dc3e8"/>
<rect x="380.0" y="1738.0" width="15.0" height="7.0" fill="#9dc3e8"/>
<rect x="392.0" y="1745.0" width="10.0" height="6.0" fill="#9dc3e8"/>
<polygon points="446.0,1517.0 452.0,1517.0 467.7,1533.0 467.7,1536.0 455.0,1536.0" fill="#9dc3e8"/>
<polygon points="516.0,1561.8 520.0,1561.8 524.5,1571.5 516.0,1571.5" fill="#9dc3e8"/>
<polygon points="380.8,1457.5 389.0,1457.2 396.7,1468.4 402.5,1475.6 412.2,1481.9 431.5,1495.0 431.5,1498.0 402.5,1482.9 397.7,1480.5 388.0,1473.2 381.7,1471.3" fill="#9dc3e8"/>
<polyline points="219.1,1448.3 330.0,1443.5" fill="none" stroke="#9dc3e8" stroke-width="3.2" stroke-linejoin="round"/>
<polyline points="252.2,1516.4 341.1,1516.4" fill="none" stroke="#6b3a08" stroke-width="2.6" stroke-linejoin="round"/>
<polyline points="234.1,1480.5 292.7,1480.5" fill="none" stroke="#6b3a08" stroke-width="2.2" stroke-linejoin="round"/>
<polyline points="261.4,1591.2 410.0,1611.6 477.4,1622.3" fill="none" stroke="#9dc3e8" stroke-width="4.2" stroke-linejoin="round"/>
<polyline points="477.6,1573.5 477.6,1622.3" fill="none" stroke="#9dc3e8" stroke-width="2.2" stroke-linejoin="round"/>
<polyline points="230.6,1708.2 410.0,1713.9 580.2,1719.4" fill="none" stroke="#9dc3e8" stroke-width="4.2" stroke-linejoin="round"/>
<polyline points="549.5,1717.0 556.5,1764.0" fill="none" stroke="#9dc3e8" stroke-width="2.8" stroke-linejoin="round"/>
<polyline points="230.9,1707.0 221.9,1793.0" fill="none" stroke="#9dc3e8" stroke-width="2.6" stroke-linejoin="round"/>
<polyline points="263.2,1710.5 251.1,1855.0" fill="none" stroke="#9dc3e8" stroke-width="2.4" stroke-linejoin="round"/>
<polyline points="242.0,1855.2 365.4,1867.3" fill="none" stroke="#9dc3e8" stroke-width="4.0" stroke-linejoin="round"/>
<polyline points="294.6,1751.6 285.6,1855.6" fill="none" stroke="#9dc3e8" stroke-width="1.3" stroke-linejoin="round"/>
<polyline points="372.0,1712.5 365.5,1836.0" fill="none" stroke="#9dc3e8" stroke-width="1.3" stroke-linejoin="round"/>
<polyline points="330.5,1712.0 321.0,1836.0" fill="none" stroke="#9dc3e8" stroke-width="1.0" stroke-linejoin="round"/>
<polyline points="391.4,1457.8 400.0,1473.5 424.2,1490.5 448.4,1512.2 462.9,1524.3 484.6,1538.8 508.8,1550.9 527.0,1560.6 539.1,1570.3 551.1,1584.8 560.8,1599.3 569.3,1623.5 576.5,1653.7 586.2,1698.4 595.3,1760.0" fill="none" stroke="#9dc3e8" stroke-width="8.0" stroke-linejoin="round"/>
<polyline points="219.1,1462.0 378.0,1456.0" fill="none" stroke="#6b3a08" stroke-width="1.12" stroke-linejoin="round"/>
<polyline points="337.6,1440.9 344.2,1571.5 340.0,1601.7 334.5,1650.0 329.1,1710.5 323.7,1754.0 314.0,1862.8 313.5,1868.0" fill="none" stroke="#6b3a08" stroke-width="1.26" stroke-linejoin="round"/>
<polyline points="257.2,1462.6 252.3,1507.4" fill="none" stroke="#6b3a08" stroke-width="0.91" stroke-linejoin="round"/>
<polyline points="294.6,1495.3 283.8,1590.8" fill="none" stroke="#6b3a08" stroke-width="1.12" stroke-linejoin="round"/>
<polyline points="277.7,1594.4 270.5,1659.7 264.4,1705.6" fill="none" stroke="#6b3a08" stroke-width="0.98" stroke-linejoin="round"/>
<polyline points="287.4,1570.3 336.0,1571.3" fill="none" stroke="#6b3a08" stroke-width="0.84" stroke-linejoin="round"/>
<polyline points="376.9,1456.6 381.7,1605.3" fill="none" stroke="#6b3a08" stroke-width="0.98" stroke-linejoin="round"/>
<polyline points="479.2,1573.9 478.6,1650.0 478.6,1763.7" fill="none" stroke="#6b3a08" stroke-width="1.26" stroke-linejoin="round"/>
<polyline points="420.6,1512.2 443.5,1523.1" fill="none" stroke="#6b3a08" stroke-width="0.98" stroke-linejoin="round"/>
<polyline points="443.5,1517.0 450.2,1573.9" fill="none" stroke="#6b3a08" stroke-width="0.7" stroke-linejoin="round"/>
<polyline points="479.2,1590.8 524.5,1591.4" fill="none" stroke="#6b3a08" stroke-width="0.84" stroke-linejoin="round"/>
<polyline points="479.2,1602.3 553.6,1606.5" fill="none" stroke="#6b3a08" stroke-width="0.84" stroke-linejoin="round"/>
<polyline points="536.0,1651.3 568.1,1647.7" fill="none" stroke="#6b3a08" stroke-width="0.98" stroke-linejoin="round"/>
<polyline points="542.1,1682.0 572.9,1677.2" fill="none" stroke="#6b3a08" stroke-width="0.98" stroke-linejoin="round"/>
<polyline points="543.3,1691.7 575.3,1688.1" fill="none" stroke="#6b3a08" stroke-width="0.98" stroke-linejoin="round"/>
<polyline points="542.1,1682.0 547.5,1715.9" fill="none" stroke="#6b3a08" stroke-width="0.98" stroke-linejoin="round"/>
<polyline points="422.4,1673.0 418.1,1711.7" fill="none" stroke="#6b3a08" stroke-width="0.84" stroke-linejoin="round"/>
<polyline points="426.0,1716.0 409.0,1771.0 400.0,1835.0" fill="none" stroke="#6b3a08" stroke-width="0.7" stroke-linejoin="round"/>
<polyline points="237.2,1744.9 323.0,1752.8" fill="none" stroke="#6b3a08" stroke-width="0.91" stroke-linejoin="round"/>
<polyline points="260.2,1770.3 320.0,1774.5" fill="none" stroke="#6b3a08" stroke-width="0.91" stroke-linejoin="round"/>
<polyline points="256.0,1800.5 269.9,1801.8 266.8,1827.7" fill="none" stroke="#6b3a08" stroke-width="0.77" stroke-linejoin="round"/>
<polyline points="288.0,1833.8 314.0,1836.2" fill="none" stroke="#6b3a08" stroke-width="0.84" stroke-linejoin="round"/>
<polyline points="343.0,1682.0 405.9,1691.7" fill="none" stroke="#6b3a08" stroke-width="0.91" stroke-linejoin="round"/>
<polyline points="360.5,1650.0 356.9,1683.9" fill="none" stroke="#6b3a08" stroke-width="0.91" stroke-linejoin="round"/>
<polyline points="381.1,1688.7 379.3,1709.3" fill="none" stroke="#6b3a08" stroke-width="0.84" stroke-linejoin="round"/>
<polyline points="255.3,1859.8 350.9,1868.9" fill="none" stroke="#6b3a08" stroke-width="0.98" stroke-linejoin="round"/>
<polyline points="281.3,1862.8 280.7,1890.0" fill="none" stroke="#6b3a08" stroke-width="0.91" stroke-linejoin="round"/>
<polyline points="320.6,1866.4 321.2,1881.6" fill="none" stroke="#6b3a08" stroke-width="0.91" stroke-linejoin="round"/>
<polyline points="327.9,1757.6 410.0,1770.9 458.6,1788.5" fill="none" stroke="#6b3a08" stroke-width="0.77" stroke-linejoin="round"/>
<polyline points="327.3,1741.9 361.1,1745.5" fill="none" stroke="#6b3a08" stroke-width="0.77" stroke-linejoin="round"/>
<polyline points="336.0,1571.3 410.0,1572.7 479.0,1573.6" fill="none" stroke="#6b3a08" stroke-width="0.84" stroke-linejoin="round"/>
</g>
</g>
<text x="836.8" y="1873.1" font-size="24" font-weight="bold" font-family="Liberation Serif, serif" fill="#111">(b)</text>
<g transform="translate(831,0.5)">
<defs><clipPath id="mcc"><polygon points="219.1,1446.9 378.1,1439.7 391.4,1457.8 400.0,1473.5 424.2,1490.5 448.4,1512.2 462.9,1524.3 484.6,1538.8 508.8,1550.9 527.0,1560.6 539.1,1570.3 551.1,1584.8 560.8,1599.3 569.3,1623.5 576.5,1653.7 586.2,1698.4 595.3,1760.0 557.2,1764.3 520.9,1766.1 478.6,1763.7 450.8,1761.9 450.8,1715.9 442.3,1715.9 441.1,1756.4 458.0,1774.5 458.6,1787.8 453.2,1797.5 436.3,1796.9 432.6,1833.8 401.0,1836.2 369.6,1835.0 365.4,1867.7 350.9,1867.7 350.9,1883.4 321.3,1883.2 321.3,1874.9 281.3,1874.9 281.3,1890.0 254.7,1888.8 255.3,1859.8 242.0,1855.0 243.3,1824.1 228.1,1821.1 229.3,1794.5 221.5,1793.3 230.6,1706.8 254.1,1705.6 258.4,1659.7 262.0,1590.8 265.6,1564.2 247.5,1557.6 252.3,1514.0 252.3,1507.4 219.1,1462.0"/></clipPath></defs>
<polygon points="219.1,1446.9 378.1,1439.7 391.4,1457.8 400.0,1473.5 424.2,1490.5 448.4,1512.2 462.9,1524.3 484.6,1538.8 508.8,1550.9 527.0,1560.6 539.1,1570.3 551.1,1584.8 560.8,1599.3 569.3,1623.5 576.5,1653.7 586.2,1698.4 595.3,1760.0 557.2,1764.3 520.9,1766.1 478.6,1763.7 450.8,1761.9 450.8,1715.9 442.3,1715.9 441.1,1756.4 458.0,1774.5 458.6,1787.8 453.2,1797.5 436.3,1796.9 432.6,1833.8 401.0,1836.2 369.6,1835.0 365.4,1867.7 350.9,1867.7 350.9,1883.4 321.3,1883.2 321.3,1874.9 281.3,1874.9 281.3,1890.0 254.7,1888.8 255.3,1859.8 242.0,1855.0 243.3,1824.1 228.1,1821.1 229.3,1794.5 221.5,1793.3 230.6,1706.8 254.1,1705.6 258.4,1659.7 262.0,1590.8 265.6,1564.2 247.5,1557.6 252.3,1514.0 252.3,1507.4 219.1,1462.0" fill="#fff34f"/>
<g clip-path="url(#mcc)">
<rect x="219.3" y="1447.6" width="59.2" height="13.9" fill="#f7a9c6"/>
<rect x="256.8" y="1501.4" width="21.1" height="11.5" fill="#f7a9c6"/>
<rect x="349.3" y="1486.3" width="10.9" height="15.7" fill="#f7a9c6"/>
<rect x="360.2" y="1548.0" width="15.7" height="21.8" fill="#f7a9c6"/>
<rect x="308.2" y="1600.0" width="21.7" height="33.8" fill="#f7a9c6"/>
<rect x="350.5" y="1606.0" width="27.8" height="33.9" fill="#f7a9c6"/>
<rect x="331.1" y="1590.3" width="19.4" height="10.9" fill="#f7a9c6"/>
<rect x="423.2" y="1546.4" width="21.8" height="15.1" fill="#f7a9c6"/>
<rect x="489.7" y="1590.0" width="29.0" height="26.6" fill="#f7a9c6"/>
<rect x="471.6" y="1617.8" width="14.5" height="13.3" fill="#f7a9c6"/>
<rect x="518.7" y="1629.9" width="27.8" height="8.4" fill="#f7a9c6"/>
<rect x="490.0" y="1632.0" width="28.0" height="9.0" fill="#f7a9c6"/>
<rect x="229.6" y="1740.2" width="7.2" height="12.1" fill="#f7a9c6"/>
<rect x="268.2" y="1792.5" width="92.0" height="12.1" fill="#f7a9c6"/>
<rect x="320.2" y="1804.6" width="40.0" height="14.5" fill="#f7a9c6"/>
<rect x="320.2" y="1773.1" width="40.0" height="14.5" fill="#f7a9c6"/>
<rect x="360.2" y="1785.2" width="14.5" height="19.4" fill="#f7a9c6"/>
<rect x="478.8" y="1700.3" width="65.3" height="13.3" fill="#f7a9c6"/>
<rect x="527.2" y="1718.4" width="16.9" height="15.7" fill="#f7a9c6"/>
<rect x="483.6" y="1722.1" width="15.8" height="8.4" fill="#f7a9c6"/>
<rect x="262.8" y="1598.8" width="11.5" height="27.8" fill="#f7a9c6"/>
<rect x="323.9" y="1748.7" width="85.1" height="30.8" fill="#f7a9c6"/>
<rect x="378.3" y="1713.6" width="30.7" height="27.8" fill="#f7a9c6"/>
<rect x="275.0" y="1826.0" width="25.0" height="6.0" fill="#f7a9c6"/>
<polygon points="563.5,1626.2 569.5,1626.2 578.0,1660.0 572.0,1660.0" fill="#f7a9c6"/>
<polygon points="570.7,1649.5 576.8,1649.5 593.7,1759.5 587.6,1759.5" fill="#f7a9c6"/>
<polygon points="400.0,1722.0 426.0,1722.0 458.0,1775.0 458.0,1788.0 453.0,1798.0 436.0,1797.0 400.0,1770.0" fill="#f7a9c6"/>
<polygon points="233.5,1480.5 278.5,1480.5 278.5,1577.0 265.2,1577.0 265.2,1565.5 247.7,1557.6 251.3,1514.1 251.3,1508.1" fill="#f77a38"/>
<rect x="282.8" y="1482.7" width="52.0" height="97.9" fill="#f77a38"/>
<rect x="283.8" y="1483.7" width="50" height="31.5" fill="none" stroke="#8dcb57" stroke-width="1.6"/>
<rect x="256.8" y="1501.4" width="21.1" height="11.5" fill="#f7a9c6"/>
<rect x="282.8" y="1446.4" width="55.6" height="31.5" fill="#e81e2b"/>
<rect x="339.6" y="1440.4" width="43.5" height="37.5" fill="#e81e2b"/>
<rect x="339.6" y="1440.4" width="53.4" height="17.6" fill="#e81e2b"/>
<rect x="332.3" y="1477.9" width="9.7" height="112.4" fill="#e81e2b"/>
<rect x="342.0" y="1477.9" width="18.2" height="112.4" fill="#e81e2b"/>
<rect x="360.2" y="1477.9" width="20.5" height="12.1" fill="#e81e2b"/>
<rect x="361.4" y="1514.1" width="19.3" height="21.8" fill="#e81e2b"/>
<rect x="383.1" y="1545.6" width="25.9" height="24.2" fill="#e81e2b"/>
<rect x="343.2" y="1572.2" width="37.5" height="14.5" fill="#e81e2b"/>
<rect x="329.9" y="1601.2" width="10.9" height="61.8" fill="#e81e2b"/>
<rect x="340.8" y="1603.6" width="9.7" height="59.4" fill="#e81e2b"/>
<rect x="274.3" y="1620.5" width="32.6" height="13.3" fill="#e81e2b"/>
<rect x="273.1" y="1633.8" width="30.2" height="25.7" fill="#e81e2b"/>
<rect x="262.8" y="1598.8" width="4.7" height="27.8" fill="#e81e2b"/>
<rect x="403.7" y="1624.1" width="5.3" height="35.4" fill="#e81e2b"/>
<rect x="399.0" y="1544.0" width="20.0" height="28.4" fill="#e81e2b"/>
<rect x="420.8" y="1541.0" width="26.6" height="5.4" fill="#e81e2b"/>
<rect x="420.8" y="1561.5" width="26.6" height="10.9" fill="#e81e2b"/>
<rect x="420.8" y="1546.4" width="2.4" height="15.1" fill="#e81e2b"/>
<rect x="445.0" y="1546.4" width="2.4" height="15.1" fill="#e81e2b"/>
<rect x="451.0" y="1560.3" width="24.2" height="12.1" fill="#e81e2b"/>
<rect x="518.7" y="1590.6" width="6.7" height="19.3" fill="#e81e2b"/>
<rect x="405.0" y="1625.0" width="29.1" height="29.0" fill="#e81e2b"/>
<rect x="414.7" y="1615.4" width="6.7" height="9.6" fill="#e81e2b"/>
<rect x="435.3" y="1632.9" width="15.7" height="17.5" fill="#e81e2b"/>
<rect x="451.0" y="1639.5" width="12.1" height="6.1" fill="#e81e2b"/>
<rect x="480.0" y="1623.8" width="9.7" height="35.7" fill="#e81e2b"/>
<rect x="503.0" y="1629.3" width="12.1" height="5.4" fill="#e81e2b"/>
<rect x="505.4" y="1636.0" width="14.5" height="5.4" fill="#e81e2b"/>
<rect x="349.3" y="1592.7" width="7.2" height="7.3" fill="#e81e2b"/>
<rect x="378.3" y="1716.0" width="21.7" height="22.0" fill="#e81e2b"/>
<rect x="346.8" y="1749.9" width="29.1" height="14.5" fill="#e81e2b"/>
<rect x="337.2" y="1765.6" width="16.9" height="13.9" fill="#e81e2b"/>
<rect x="395.2" y="1756.0" width="10.9" height="9.6" fill="#e81e2b"/>
<rect x="274.3" y="1805.8" width="13.3" height="20.5" fill="#e81e2b"/>
<rect x="310.6" y="1785.2" width="7.2" height="7.3" fill="#e81e2b"/>
<rect x="320.2" y="1787.6" width="26.6" height="6.1" fill="#e81e2b"/>
<rect x="329.9" y="1793.7" width="10.9" height="9.7" fill="#e81e2b"/>
<rect x="317.8" y="1815.4" width="10.9" height="7.3" fill="#e81e2b"/>
<rect x="337.2" y="1769.5" width="16.9" height="7.3" fill="#e81e2b"/>
<rect x="374.7" y="1774.3" width="13.3" height="8.5" fill="#e81e2b"/>
<rect x="478.8" y="1649.5" width="8.5" height="114.3" fill="#e81e2b"/>
<rect x="470.3" y="1701.5" width="8.5" height="62.3" fill="#e81e2b"/>
<rect x="466.7" y="1673.7" width="10.9" height="15.7" fill="#e81e2b"/>
<rect x="440.7" y="1675.5" width="6.7" height="15.7" fill="#e81e2b"/>
<rect x="534.4" y="1708.8" width="9.7" height="5.4" fill="#e81e2b"/>
<rect x="451.0" y="1717.2" width="13.3" height="23.0" fill="#e81e2b"/>
<rect x="466.7" y="1717.2" width="9.7" height="14.5" fill="#e81e2b"/>
<rect x="481.2" y="1717.2" width="29.0" height="10.9" fill="#e81e2b"/>
<rect x="482.4" y="1731.7" width="20.6" height="6.1" fill="#e81e2b"/>
<rect x="511.5" y="1718.4" width="14.5" height="3.7" fill="#e81e2b"/>
<rect x="532.0" y="1729.3" width="8.5" height="6.1" fill="#e81e2b"/>
<rect x="399.0" y="1722.0" width="19.3" height="21.8" fill="#e81e2b"/>
<rect x="442.5" y="1774.0" width="17.0" height="13.3" fill="#e81e2b"/>
<rect x="403.8" y="1649.5" width="48.4" height="7.3" fill="#e81e2b"/>
<polygon points="227.1,1461.5 278.5,1461.5 278.5,1479.1 240.0,1479.1" fill="#e81e2b"/>
<polygon points="319.5,1649.5 331.1,1649.5 329.9,1706.3 319.0,1706.3" fill="#e81e2b"/>
<polygon points="331.1,1649.5 345.5,1649.5 344.4,1706.3 331.1,1706.3" fill="#e81e2b"/>
<rect x="349.3" y="1486.3" width="10.9" height="15.7" fill="#f7a9c6"/>
<rect x="360.2" y="1548.0" width="15.7" height="21.8" fill="#f7a9c6"/>
<rect x="423.2" y="1546.4" width="21.8" height="15.1" fill="#f7a9c6"/>
<rect x="331.1" y="1590.3" width="19.4" height="10.9" fill="#f7a9c6"/>
<rect x="262.8" y="1605.0" width="4.7" height="15.0" fill="#f7a9c6"/>
<rect x="275.0" y="1633.8" width="15.0" height="6.2" fill="#f7a9c6"/>
<rect x="285.0" y="1645.0" width="15.0" height="7.0" fill="#f7a9c6"/>
<rect x="478.8" y="1700.3" width="55.2" height="13.3" fill="#f7a9c6"/>
<rect x="527.2" y="1718.4" width="16.9" height="9.6" fill="#f7a9c6"/>
<rect x="483.6" y="1722.1" width="15.8" height="8.4" fill="#f7a9c6"/>
<rect x="330.0" y="1776.0" width="15.0" height="10.0" fill="#f7a9c6"/>
<rect x="300.0" y="1800.0" width="18.0" height="6.0" fill="#f7a9c6"/>
<rect x="404.0" y="1744.0" width="5.0" height="16.0" fill="#f7a9c6"/>
<rect x="351.0" y="1505.1" width="10.4" height="4.2" fill="#0b7a14"/>
<rect x="411.1" y="1760.7" width="14.5" height="7.3" fill="#0b7a14"/>
<rect x="349.3" y="1528.7" width="10.9" height="19.3" fill="#8dcb57"/>
<rect x="274.0" y="1466.0" width="5.0" height="6.0" fill="#8dcb57"/>
<polygon points="553.8,1605.1 558.6,1605.1 564.7,1626.2 561.6,1626.2" fill="#0b7a14"/>
<rect x="476.4" y="1542.8" width="12.1" height="30.2" fill="#9dc3e8"/>
<rect x="377.1" y="1633.8" width="13.3" height="9.7" fill="#9dc3e8"/>
<rect x="320.2" y="1804.6" width="37.5" height="4.8" fill="#9dc3e8"/>
<rect x="515.0" y="1735.4" width="11.0" height="3.6" fill="#9dc3e8"/>
<rect x="532.0" y="1736.6" width="6.0" height="2.4" fill="#9dc3e8"/>
<rect x="492.0" y="1737.8" width="16.0" height="3.6" fill="#9dc3e8"/>
<rect x="483.6" y="1739.0" width="6.1" height="2.5" fill="#0b7a14"/>
<rect x="471.6" y="1728.0" width="4.8" height="2.5" fill="#0b7a14"/>
<polygon points="446.0,1517.0 452.0,1517.0 467.7,1533.0 467.7,1536.0 455.0,1536.0" fill="#9dc3e8"/>
<polygon points="516.0,1561.8 520.0,1561.8 524.5,1571.5 516.0,1571.5" fill="#9dc3e8"/>
<polygon points="380.8,1457.5 389.0,1457.2 396.7,1468.4 402.5,1475.6 412.2,1481.9 431.5,1495.0 431.5,1498.0 402.5,1482.9 397.7,1480.5 388.0,1473.2 381.7,1471.3" fill="#9dc3e8"/>
<polyline points="219.1,1448.3 330.0,1443.5" fill="none" stroke="#9dc3e8" stroke-width="3.2" stroke-linejoin="round"/>
<polyline points="281.0,1444.0 281.0,1594.0" fill="none" stroke="#6b3a08" stroke-width="4.0" stroke-linejoin="round"/>
<polyline points="236.8,1480.5 339.6,1480.5" fill="none" stroke="#6b3a08" stroke-width="3.4" stroke-linejoin="round"/>
<polyline points="252.5,1515.5 340.8,1515.5" fill="none" stroke="#6b3a08" stroke-width="3.0" stroke-linejoin="round"/>
<polyline points="262.2,1584.2 334.0,1589.7 369.0,1593.8 449.0,1607.1 570.1,1628.1" fill="none" stroke="#6b3a08" stroke-width="2.8" stroke-linejoin="round"/>
<polyline points="261.4,1591.2 410.0,1611.6 477.4,1622.3" fill="none" stroke="#9dc3e8" stroke-width="4.2" stroke-linejoin="round"/>
<polyline points="477.6,1573.5 477.6,1622.3" fill="none" stroke="#9dc3e8" stroke-width="2.2" stroke-linejoin="round"/>
<polyline points="230.6,1708.2 410.0,1713.9 580.2,1719.4" fill="none" stroke="#9dc3e8" stroke-width="4.2" stroke-linejoin="round"/>
<polyline points="549.5,1717.0 556.5,1764.0" fill="none" stroke="#9dc3e8" stroke-width="2.8" stroke-linejoin="round"/>
<polyline points="230.9,1707.0 221.9,1793.0" fill="none" stroke="#9dc3e8" stroke-width="2.6" stroke-linejoin="round"/>
<polyline points="263.2,1710.5 251.1,1855.0" fill="none" stroke="#9dc3e8" stroke-width="2.4" stroke-linejoin="round"/>
<polyline points="242.0,1855.2 365.4,1867.3" fill="none" stroke="#9dc3e8" stroke-width="4.0" stroke-linejoin="round"/>
<polyline points="294.6,1751.6 285.6,1855.6" fill="none" stroke="#9dc3e8" stroke-width="1.3" stroke-linejoin="round"/>
<polyline points="372.0,1712.5 365.5,1836.0" fill="none" stroke="#9dc3e8" stroke-width="1.3" stroke-linejoin="round"/>
<polyline points="330.5,1712.0 321.0,1836.0" fill="none" stroke="#9dc3e8" stroke-width="1.0" stroke-linejoin="round"/>
<polyline points="391.4,1457.8 400.0,1473.5 424.2,1490.5 448.4,1512.2 462.9,1524.3 484.6,1538.8 508.8,1550.9 527.0,1560.6 539.1,1570.3 551.1,1584.8 560.8,1599.3 569.3,1623.5 576.5,1653.7 586.2,1698.4 595.3,1760.0" fill="none" stroke="#9dc3e8" stroke-width="8.0" stroke-linejoin="round"/>
<polyline points="219.1,1462.0 378.0,1456.0" fill="none" stroke="#6b3a08" stroke-width="1.12" stroke-linejoin="round"/>
<polyline points="337.6,1440.9 344.2,1571.5 340.0,1601.7 334.5,1650.0 329.1,1710.5 323.7,1754.0 314.0,1862.8 313.5,1868.0" fill="none" stroke="#6b3a08" stroke-width="1.26" stroke-linejoin="round"/>
<polyline points="277.7,1594.4 270.5,1659.7 264.4,1705.6" fill="none" stroke="#6b3a08" stroke-width="0.98" stroke-linejoin="round"/>
<polyline points="376.9,1456.6 381.7,1605.3" fill="none" stroke="#6b3a08" stroke-width="0.98" stroke-linejoin="round"/>
<polyline points="479.2,1573.9 478.6,1650.0 478.6,1763.7" fill="none" stroke="#6b3a08" stroke-width="1.26" stroke-linejoin="round"/>
<polyline points="420.6,1512.2 443.5,1523.1" fill="none" stroke="#6b3a08" stroke-width="0.98" stroke-linejoin="round"/>
<polyline points="443.5,1517.0 450.2,1573.9" fill="none" stroke="#6b3a08" stroke-width="0.7" stroke-linejoin="round"/>
<polyline points="479.2,1590.8 524.5,1591.4" fill="none" stroke="#6b3a08" stroke-width="0.84" stroke-linejoin="round"/>
<polyline points="479.2,1602.3 553.6,1606.5" fill="none" stroke="#6b3a08" stroke-width="0.84" stroke-linejoin="round"/>
<polyline points="536.0,1651.3 568.1,1647.7" fill="none" stroke="#6b3a08" stroke-width="0.98" stroke-linejoin="round"/>
<polyline points="542.1,1682.0 572.9,1677.2" fill="none" stroke="#6b3a08" stroke-width="0.98" stroke-linejoin="round"/>
<polyline points="543.3,1691.7 575.3,1688.1" fill="none" stroke="#6b3a08" stroke-width="0.98" stroke-linejoin="round"/>
<polyline points="542.1,1682.0 547.5,1715.9" fill="none" stroke="#6b3a08" stroke-width="0.98" stroke-linejoin="round"/>
<polyline points="422.4,1673.0 418.1,1711.7" fill="none" stroke="#6b3a08" stroke-width="0.84" stroke-linejoin="round"/>
<polyline points="426.0,1716.0 409.0,1771.0 400.0,1835.0" fill="none" stroke="#6b3a08" stroke-width="0.7" stroke-linejoin="round"/>
<polyline points="237.2,1744.9 323.0,1752.8" fill="none" stroke="#6b3a08" stroke-width="0.91" stroke-linejoin="round"/>
<polyline points="260.2,1770.3 320.0,1774.5" fill="none" stroke="#6b3a08" stroke-width="0.91" stroke-linejoin="round"/>
<polyline points="256.0,1800.5 269.9,1801.8 266.8,1827.7" fill="none" stroke="#6b3a08" stroke-width="0.77" stroke-linejoin="round"/>
<polyline points="288.0,1833.8 314.0,1836.2" fill="none" stroke="#6b3a08" stroke-width="0.84" stroke-linejoin="round"/>
<polyline points="343.0,1682.0 405.9,1691.7" fill="none" stroke="#6b3a08" stroke-width="0.91" stroke-linejoin="round"/>
<polyline points="360.5,1650.0 356.9,1683.9" fill="none" stroke="#6b3a08" stroke-width="0.91" stroke-linejoin="round"/>
<polyline points="381.1,1688.7 379.3,1709.3" fill="none" stroke="#6b3a08" stroke-width="0.84" stroke-linejoin="round"/>
<polyline points="255.3,1859.8 350.9,1868.9" fill="none" stroke="#6b3a08" stroke-width="0.98" stroke-linejoin="round"/>
<polyline points="281.3,1862.8 280.7,1890.0" fill="none" stroke="#6b3a08" stroke-width="0.91" stroke-linejoin="round"/>
<polyline points="320.6,1866.4 321.2,1881.6" fill="none" stroke="#6b3a08" stroke-width="0.91" stroke-linejoin="round"/>
<polyline points="327.9,1757.6 410.0,1770.9 458.6,1788.5" fill="none" stroke="#6b3a08" stroke-width="0.77" stroke-linejoin="round"/>
<polyline points="327.3,1741.9 361.1,1745.5" fill="none" stroke="#6b3a08" stroke-width="0.77" stroke-linejoin="round"/>
<polyline points="336.0,1571.3 410.0,1572.7 479.0,1573.6" fill="none" stroke="#6b3a08" stroke-width="0.84" stroke-linejoin="round"/>
</g>
</g>
<text x="1251.0" y="1873.5" font-size="24" font-weight="bold" font-family="Liberation Serif, serif" fill="#111">(c)</text>
<text x="1388" y="1456.4" font-size="18" font-family="Liberation Sans, Arial, sans-serif" fill="#000">N</text>
<polygon points="1393.5,1460.9 1380,1501.7 1393.1,1488.7" fill="#000"/>
<polygon points="1393.5,1462.5 1393.1,1488.7 1405.4,1500.5" fill="#fff" stroke="#000" stroke-width="1.4" stroke-linejoin="miter"/>
<g font-family="Liberation Serif, Times New Roman, serif" fill="#111" font-size="25">
<line x1="229.7" y1="1953.5" x2="409.6" y2="1953.5" stroke="#111" stroke-width="2"/>
<line x1="229.7" y1="1936.2" x2="229.7" y2="1953.5" stroke="#111" stroke-width="1.4"/>
<line x1="244.7" y1="1941.9" x2="244.7" y2="1953.5" stroke="#111" stroke-width="1.4"/>
<line x1="259.7" y1="1941.9" x2="259.7" y2="1953.5" stroke="#111" stroke-width="1.4"/>
<line x1="274.7" y1="1941.9" x2="274.7" y2="1953.5" stroke="#111" stroke-width="1.4"/>
<line x1="289.7" y1="1941.9" x2="289.7" y2="1953.5" stroke="#111" stroke-width="1.4"/>
<line x1="304.6" y1="1941.9" x2="304.6" y2="1953.5" stroke="#111" stroke-width="1.4"/>
<line x1="319.6" y1="1936.2" x2="319.6" y2="1953.5" stroke="#111" stroke-width="1.4"/>
<line x1="334.6" y1="1941.9" x2="334.6" y2="1953.5" stroke="#111" stroke-width="1.4"/>
<line x1="349.6" y1="1941.9" x2="349.6" y2="1953.5" stroke="#111" stroke-width="1.4"/>
<line x1="364.6" y1="1941.9" x2="364.6" y2="1953.5" stroke="#111" stroke-width="1.4"/>
<line x1="379.6" y1="1941.9" x2="379.6" y2="1953.5" stroke="#111" stroke-width="1.4"/>
<line x1="394.6" y1="1941.9" x2="394.6" y2="1953.5" stroke="#111" stroke-width="1.4"/>
<line x1="409.6" y1="1936.2" x2="409.6" y2="1953.5" stroke="#111" stroke-width="1.4"/>
<text x="223.6" y="1928.7" font-size="23.5">0</text>
<text x="259.2" y="1928.7" font-size="23.5">0.3</text>
<text x="303.3" y="1928.7" font-size="23.5">0.6</text>
<text x="395.2" y="1928.7" font-size="24.8">1.2 km</text>
<rect x="468.7" y="1907.5" width="25" height="12.3" fill="#fff34f"/>
<text x="498.6" y="1922.0">Farmland</text>
<rect x="468.7" y="1939.9" width="25" height="12.3" fill="#f7a9c6"/>
<text x="498.6" y="1955.0">Rural built-up land</text>
<rect x="696.3" y="1907.4" width="25" height="12.3" fill="#0b7a14"/>
<text x="726.7" y="1921.8">Forestland</text>
<rect x="696.3" y="1940.6" width="25" height="12.3" fill="#9dc3e8"/>
<text x="727.2" y="1954.5">Water area</text>
<rect x="838.7" y="1907.4" width="25" height="12.3" fill="#8dcb57"/>
<text x="869.0" y="1921.8">Grassland</text>
<rect x="838.7" y="1940.6" width="25" height="12.3" fill="#6b3a08"/>
<text x="871.0" y="1954.5">Transportation land</text>
<rect x="1071.5" y="1906.9" width="25" height="12.3" fill="#f77a38"/>
<text x="1102.0" y="1921.4">Industrial park</text>
<rect x="1071.5" y="1939.8" width="25" height="12.3" fill="#e8383a"/>
<text x="1102.0" y="1954.4">Rural settlement with workshops</text>
</g>
</svg>
<div class="hd" style="left:105px;top:101.0px;font-size:16.8px">Y. Zang et al.</div>
<div class="hd" style="right:103px;top:101.0px;font-size:16.95px">Journal of Rural Studies 100 (2023) 103030</div>
<div class="cl j" id="L0" data-tw="1443.8" style="top:616.6px;word-spacing:2.384px"><b>Fig. 4.</b> Development trajectory of e-commerce-related industries in Dongfeng Village. (a) and (b) show the cumulative number and cumulative proportion of the</div>
<div class="cl j" id="L1" data-tw="1443.8" style="top:643.3px;word-spacing:1.520px">registered enterprises related to e-commerce in Dongfeng Village, respectively. The increasing amount and the diversifying proportions of enterprises indicate the</div>
<div class="cl j" id="L2" data-tw="928.2" style="top:670.0px;word-spacing:1.743px">presence of a diversified, mature supply chain for e-commerce industries emerging in Dongfeng Village.</div>
<div class="cl j" id="L3" data-tw="1443.8" style="top:1196.1px;word-spacing:-0.073px"><b>Fig. 5.</b> Social-economic changes related to the development of the e-commerce industry in Dongfeng Village. (a) Shows the rapid growth of rural income in Dongfeng</div>
<div class="cl j" id="L4" data-tw="1443.8" style="top:1222.8px;word-spacing:0.398px">Village and its superiority over the average income for Jiangsu Province. (b) Shows the increasing population in Dongfeng Village and the general population decline</div>
<div class="cl j" id="L5" data-tw="306.9" style="top:1248.6px;word-spacing:2.186px">in rural areas in Jiangsu Province.</div>
<div class="cl j" id="L6" data-tw="1443.8" style="top:1990.3px;word-spacing:0.775px"><b>Fig. 6.</b> Land use/cover changes along with the development of e-commerce in Dongfeng Village (a. 2006, b. 2014, c. 2020). (a) To (c) show that areas of rural built-</div>
<div class="cl j" id="L7" data-tw="1443.8" style="top:2017.0px;word-spacing:1.222px">up land have been expanding along with the development of the e-commerce industry in Dongfeng Village, meanwhile, workshops and industrial parks emerged to</div>
<div class="cl j" id="L8" data-tw="524.6" style="top:2043.7px;word-spacing:2.245px">provide space for furniture production from 2006 to 2020.</div>
<div class="cl" style="left:823.3px;width:auto;top:2103.5px;font-size:17px;line-height:17px">7</div>
</body></html>
